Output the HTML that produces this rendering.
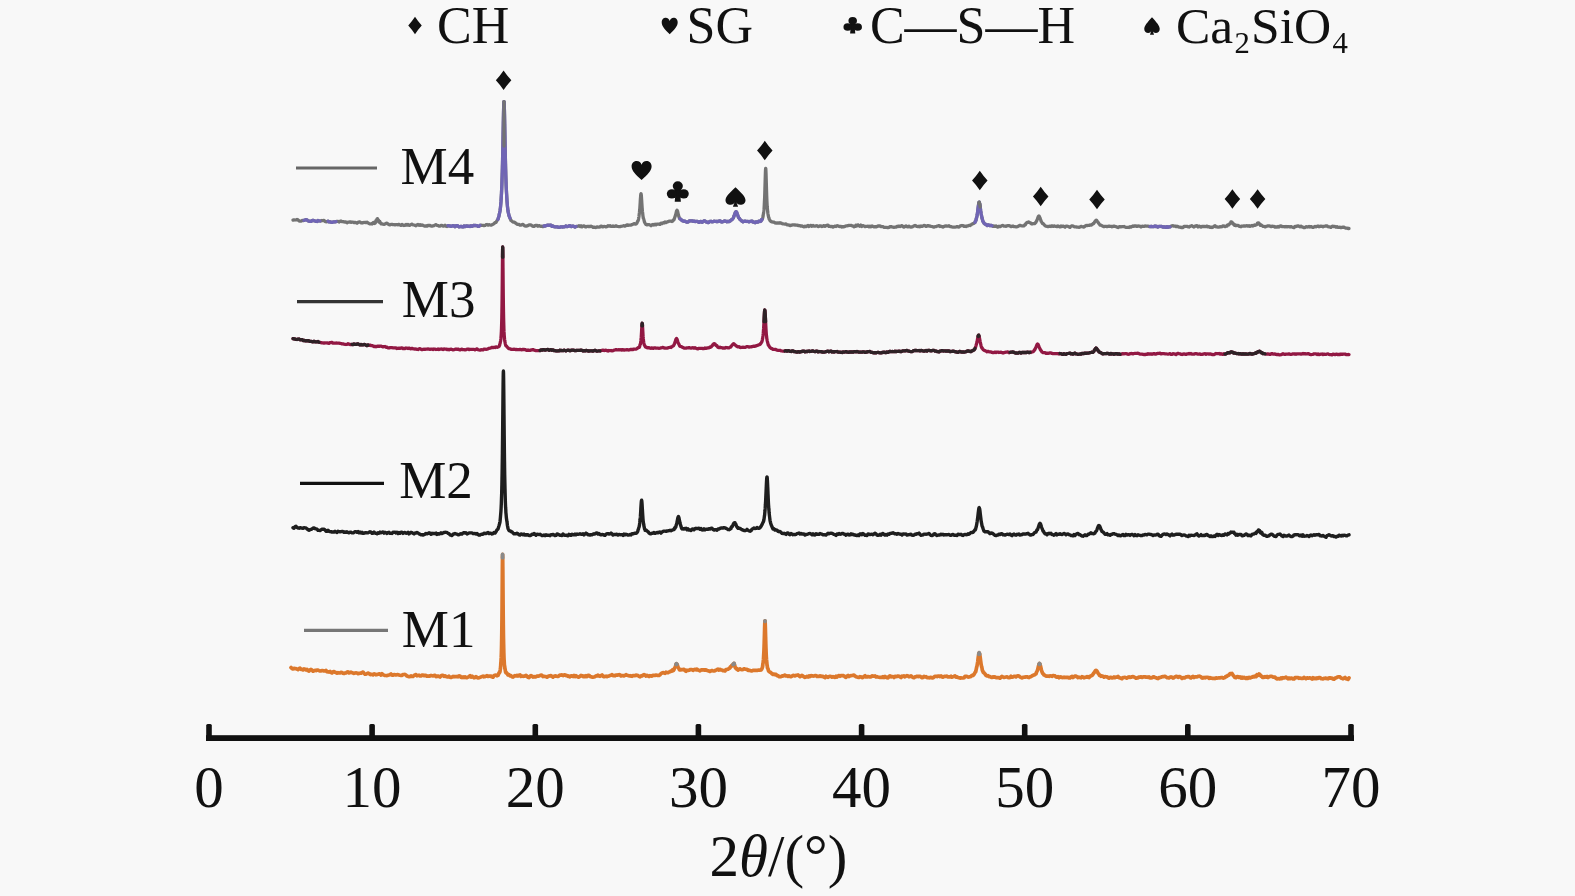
<!DOCTYPE html>
<html><head><meta charset="utf-8"><style>
html,body{margin:0;padding:0;background:#f8f8f8;overflow:hidden;}
svg{display:block;font-family:"Liberation Serif",serif;}
</style></head><body>
<svg width="1575" height="896" viewBox="0 0 1575 896">
<rect width="1575" height="896" fill="#f8f8f8"/>
<polyline points="293.0,220.1 294.0,219.8 295.0,220.0 296.0,219.8 297.0,219.5 298.0,219.9 299.0,220.8 300.0,221.1 301.0,221.2 302.0,220.5 303.0,220.6 304.0,220.3 305.0,220.0 306.0,219.7 307.0,219.8 308.0,220.8 309.0,221.2 310.0,221.3 311.0,221.4 312.0,220.6 313.0,220.3 314.0,220.7 315.0,221.0 316.0,221.3 317.0,221.5 318.0,220.5 319.0,220.8 320.0,221.0 321.0,220.9 322.0,220.5 323.0,220.7 324.0,220.3 325.0,221.4 326.0,221.8 327.0,221.6 328.0,221.2 329.0,221.9 330.0,221.9 331.0,222.2 332.0,222.4 333.0,222.0 334.0,221.8 335.0,221.9 336.0,221.7 337.0,221.3 338.0,221.3 339.0,222.0 340.0,221.4 341.0,221.0 342.0,221.7 343.0,221.6 344.0,221.9 345.0,222.0 346.0,221.9 347.0,222.8 348.0,222.1 349.0,222.1 350.0,221.8 351.0,222.3 352.0,222.1 353.0,222.1 354.0,222.7 355.0,222.4 356.0,222.6 357.0,223.2 358.0,222.4 359.0,222.0 360.0,222.0 361.0,222.8 362.0,223.0 363.0,222.6 364.0,222.5 365.0,222.3 366.0,222.6 367.0,222.2 368.0,222.9 369.0,223.5 370.0,223.9 371.0,223.8 372.0,224.0 373.0,222.8 373.6,222.5 374.0,223.3 374.1,223.4 374.6,222.8 375.0,223.2 375.1,222.9 375.2,223.0 375.3,222.3 375.4,221.8 375.5,221.8 375.6,221.4 375.7,221.5 375.8,222.3 375.9,221.7 376.0,220.9 376.1,220.5 376.2,220.4 376.3,221.2 376.4,220.9 376.5,220.5 376.6,220.0 376.7,220.9 376.8,220.5 376.9,219.9 377.0,219.3 377.1,219.0 377.2,218.9 377.3,219.5 377.4,219.1 377.5,218.7 377.6,219.1 377.7,219.1 377.8,220.1 377.9,219.5 378.0,219.8 378.1,220.4 378.2,220.2 378.3,221.1 378.4,220.8 378.5,220.5 378.6,220.6 378.7,220.3 378.8,220.7 378.9,220.8 379.0,221.7 379.1,222.2 379.2,222.1 379.3,221.4 379.4,221.4 379.5,221.4 379.6,221.5 379.7,221.5 379.8,222.5 379.9,222.0 380.0,221.7 380.1,222.8 380.6,223.0 381.0,223.8 381.1,223.3 381.6,223.9 382.0,223.9 383.0,224.2 384.0,224.3 385.0,224.0 386.0,223.4 387.0,223.2 388.0,224.1 389.0,224.6 390.0,224.9 391.0,224.3 392.0,224.4 393.0,224.7 394.0,224.7 395.0,224.9 396.0,224.7 397.0,224.7 398.0,224.8 399.0,224.3 400.0,225.0 401.0,225.4 402.0,224.4 403.0,225.1 404.0,225.5 405.0,225.3 406.0,224.4 407.0,225.1 408.0,224.4 409.0,225.3 410.0,225.3 411.0,224.5 412.0,224.2 413.0,224.8 414.0,225.0 415.0,225.3 416.0,225.8 417.0,225.0 418.0,224.4 419.0,225.3 420.0,224.6 421.0,225.4 422.0,224.8 423.0,225.4 424.0,225.8 425.0,226.1 426.0,225.8 427.0,226.1 428.0,225.3 429.0,225.6 430.0,225.3 431.0,226.0 432.0,226.1 433.0,225.8 434.0,225.7 435.0,225.0 436.0,224.7 437.0,225.3 438.0,225.5 439.0,226.1 440.0,226.1 441.0,225.5 442.0,225.5 443.0,226.0 444.0,226.0 445.0,225.3 446.0,226.1 447.0,226.5 448.0,225.7 449.0,225.9 450.0,225.9 451.0,226.4 452.0,226.0 453.0,225.7 454.0,225.9 455.0,226.7 456.0,225.9 457.0,225.6 458.0,226.1 459.0,226.8 460.0,226.6 461.0,226.4 462.0,226.8 463.0,226.9 464.0,226.0 465.0,226.6 466.0,226.0 467.0,225.8 468.0,226.4 469.0,226.2 470.0,226.5 471.0,225.8 472.0,226.4 473.0,225.8 474.0,225.4 475.0,225.6 476.0,225.5 477.0,225.7 478.0,226.3 479.0,226.3 480.0,225.3 481.0,225.2 482.0,225.4 483.0,225.4 484.0,225.7 485.0,225.5 486.0,224.7 487.0,224.5 488.0,225.2 489.0,224.7 490.0,225.0 491.0,225.2 492.0,224.7 493.0,224.3 494.0,223.7 495.0,222.6 496.0,222.3 497.0,220.7 498.0,219.2 499.0,215.7 500.0,211.0 500.5,207.1 501.0,201.4 501.5,193.1 501.6,190.6 501.7,188.9 501.8,186.3 501.9,184.0 502.0,180.8 502.1,177.6 502.2,174.4 502.3,171.4 502.4,167.5 502.5,163.9 502.6,159.4 502.7,154.9 502.8,150.0 502.9,145.1 503.0,139.7 503.1,134.4 503.2,129.2 503.3,123.8 503.4,118.8 503.5,114.0 503.6,109.9 503.7,106.4 503.8,103.8 503.9,102.2 504.0,101.6 504.1,102.2 504.2,103.8 504.3,106.4 504.4,109.9 504.5,114.0 504.6,118.7 504.7,123.8 504.8,129.2 504.9,134.6 505.0,140.1 505.1,145.0 505.2,150.1 505.3,155.0 505.4,159.6 505.5,163.8 505.6,168.0 505.7,171.4 505.8,175.2 505.9,178.1 506.0,181.1 506.1,184.2 506.2,186.7 506.3,188.6 506.4,190.5 506.5,192.5 507.0,200.8 507.5,206.9 508.0,211.1 509.0,215.6 510.0,218.2 511.0,220.5 512.0,221.2 513.0,222.0 514.0,222.1 515.0,222.5 516.0,223.4 517.0,224.1 518.0,224.4 519.0,224.4 520.0,225.2 521.0,225.2 522.0,224.6 523.0,224.3 524.0,225.4 525.0,226.0 526.0,226.2 527.0,225.9 528.0,225.4 529.0,224.9 530.0,224.9 531.0,224.8 532.0,225.8 533.0,226.3 534.0,226.4 535.0,225.6 536.0,225.3 537.0,225.3 538.0,226.2 539.0,225.6 540.0,226.1 541.0,226.3 542.0,226.2 543.0,226.7 544.0,226.0 545.0,226.1 546.0,225.6 547.0,225.3 548.0,225.1 549.0,225.3 550.0,225.2 551.0,225.1 552.0,226.4 553.0,226.0 554.0,226.7 555.0,226.8 556.0,226.9 557.0,226.8 558.0,227.2 559.0,227.3 560.0,227.2 561.0,226.9 562.0,226.9 563.0,227.0 564.0,226.8 565.0,226.6 566.0,226.0 567.0,226.7 568.0,226.5 569.0,225.9 570.0,225.7 571.0,226.6 572.0,226.2 573.0,226.1 574.0,226.5 575.0,227.0 576.0,226.5 577.0,226.3 578.0,226.2 579.0,225.7 580.0,226.6 581.0,225.8 582.0,226.8 583.0,226.1 584.0,225.8 585.0,226.6 586.0,227.0 587.0,226.3 588.0,226.5 589.0,226.4 590.0,226.7 591.0,226.1 592.0,226.7 593.0,227.3 594.0,227.1 595.0,227.4 596.0,227.5 597.0,226.8 598.0,227.1 599.0,227.2 600.0,226.9 601.0,226.1 602.0,226.4 603.0,226.9 604.0,226.3 605.0,226.5 606.0,226.9 607.0,226.7 608.0,225.7 609.0,226.1 610.0,225.7 611.0,226.4 612.0,226.4 613.0,225.9 614.0,226.4 615.0,226.3 616.0,225.8 617.0,226.3 618.0,226.5 619.0,226.7 620.0,226.7 621.0,226.3 622.0,226.2 623.0,226.0 624.0,225.7 625.0,226.2 626.0,225.6 627.0,224.8 628.0,225.3 629.0,225.1 630.0,225.1 631.0,225.1 632.0,224.6 633.0,224.2 634.0,223.6 635.0,224.1 636.0,224.1 637.0,223.1 637.5,221.5 638.0,221.0 638.5,219.4 638.6,218.7 638.7,217.5 638.8,217.5 638.9,217.0 639.0,216.4 639.1,215.1 639.2,214.7 639.3,213.5 639.4,212.7 639.5,211.6 639.6,210.6 639.7,209.8 639.8,208.6 639.9,207.3 640.0,205.6 640.1,204.0 640.2,202.5 640.3,200.7 640.4,199.2 640.5,197.9 640.6,196.5 640.7,195.3 640.8,194.4 640.9,193.9 641.0,193.7 641.1,193.9 641.2,194.4 641.3,195.3 641.4,196.4 641.5,197.8 641.6,199.4 641.7,200.9 641.8,202.6 641.9,204.1 642.0,205.7 642.1,207.3 642.2,208.5 642.3,209.8 642.4,210.8 642.5,212.0 642.6,212.6 642.7,213.5 642.8,214.4 642.9,215.7 643.0,216.0 643.1,217.0 643.2,217.1 643.3,218.3 643.4,218.3 643.5,218.4 644.0,220.1 644.5,222.1 645.0,223.1 646.0,224.5 647.0,224.8 648.0,224.5 649.0,224.7 650.0,225.0 651.0,225.7 652.0,224.9 653.0,224.5 654.0,225.0 655.0,224.2 656.0,224.9 657.0,224.2 658.0,224.1 659.0,224.1 660.0,224.4 661.0,223.2 662.0,223.6 663.0,222.8 664.0,223.0 665.0,222.0 666.0,222.6 667.0,222.0 668.0,221.7 669.0,221.2 670.0,221.2 671.0,221.1 672.0,221.5 673.0,220.8 673.5,219.9 674.0,219.8 674.5,218.2 675.0,216.7 675.5,215.4 676.0,213.3 676.5,211.1 677.0,210.2 677.5,211.0 678.0,213.1 678.5,215.3 679.0,217.1 679.5,218.6 680.0,218.8 680.5,219.2 681.0,219.5 682.0,220.4 683.0,220.9 684.0,221.3 685.0,221.2 686.0,221.7 687.0,222.1 688.0,222.2 689.0,221.2 690.0,220.9 691.0,220.8 692.0,220.9 693.0,221.3 694.0,221.1 695.0,221.5 696.0,221.4 697.0,221.4 698.0,221.8 699.0,222.4 700.0,221.6 701.0,221.5 702.0,222.3 703.0,221.6 704.0,221.0 705.0,221.0 706.0,221.8 707.0,222.1 708.0,222.6 709.0,222.2 710.0,221.3 711.0,221.3 712.0,221.8 713.0,221.7 714.0,221.2 715.0,221.3 716.0,221.5 717.0,221.4 718.0,221.5 719.0,221.1 720.0,220.8 721.0,221.6 722.0,222.0 723.0,221.7 724.0,221.1 725.0,221.0 726.0,221.3 727.0,221.8 728.0,221.4 729.0,221.7 730.0,221.1 731.0,220.0 732.0,219.6 732.5,219.1 733.0,218.4 733.5,217.6 734.0,216.0 734.5,214.8 735.0,213.4 735.5,212.1 736.0,211.6 736.5,212.0 737.0,213.2 737.5,214.7 738.0,216.0 738.5,217.4 739.0,218.0 739.5,218.6 740.0,219.5 741.0,220.3 742.0,221.2 743.0,221.8 744.0,221.3 745.0,221.1 746.0,221.3 747.0,221.5 748.0,221.3 749.0,221.9 750.0,221.3 751.0,221.5 752.0,221.1 753.0,222.0 754.0,222.1 755.0,222.7 756.0,221.8 757.0,222.1 758.0,222.0 759.0,221.1 760.0,221.5 761.0,221.2 761.7,219.5 762.0,219.7 762.2,219.4 762.7,217.9 763.0,216.7 763.2,215.3 763.3,214.3 763.4,214.0 763.5,213.9 763.6,212.7 763.7,211.9 763.8,210.8 763.9,210.2 764.0,209.5 764.1,208.3 764.2,206.3 764.3,204.5 764.4,202.2 764.5,200.4 764.6,198.5 764.7,196.0 764.8,192.7 764.9,189.6 765.0,186.1 765.1,182.7 765.2,179.4 765.3,175.9 765.4,172.9 765.5,170.5 765.6,168.9 765.7,168.4 765.8,168.9 765.9,170.5 766.0,173.0 766.1,175.9 766.2,179.2 766.3,182.7 766.4,186.3 766.5,189.6 766.6,192.6 766.7,195.7 766.8,198.4 766.9,200.8 767.0,202.9 767.1,204.7 767.2,206.5 767.3,207.4 767.4,208.8 767.5,209.7 767.6,210.6 767.7,212.1 767.8,212.8 767.9,213.5 768.0,214.0 768.1,214.9 768.2,215.1 768.7,217.6 769.0,218.0 769.2,219.3 769.7,219.7 770.0,220.6 771.0,221.5 772.0,221.9 773.0,222.0 774.0,222.2 775.0,222.9 776.0,223.0 777.0,223.1 778.0,222.8 779.0,223.2 780.0,222.7 781.0,223.1 782.0,223.6 783.0,223.8 784.0,224.0 785.0,224.2 786.0,223.8 787.0,224.8 788.0,224.9 789.0,225.1 790.0,225.6 791.0,225.3 792.0,225.0 793.0,224.9 794.0,224.9 795.0,225.0 796.0,225.1 797.0,225.1 798.0,225.5 799.0,225.5 800.0,225.7 801.0,226.2 802.0,225.9 803.0,226.5 804.0,226.8 805.0,226.2 806.0,226.7 807.0,226.0 808.0,225.5 809.0,226.5 810.0,225.7 811.0,225.3 812.0,226.3 813.0,225.5 814.0,226.1 815.0,226.2 816.0,225.8 817.0,225.7 818.0,226.6 819.0,226.3 820.0,225.9 821.0,226.0 822.0,226.5 823.0,226.1 824.0,225.6 825.0,226.3 826.0,225.7 827.0,225.4 828.0,225.1 829.0,226.4 830.0,226.3 831.0,226.6 832.0,226.5 833.0,227.1 834.0,226.5 835.0,226.2 836.0,226.5 837.0,225.7 838.0,225.8 839.0,226.4 840.0,226.5 841.0,226.4 842.0,227.0 843.0,226.6 844.0,226.8 845.0,226.4 846.0,225.8 847.0,225.9 848.0,225.7 849.0,225.3 850.0,225.5 851.0,225.3 852.0,225.7 853.0,226.2 853.8,226.4 854.0,226.8 854.3,226.1 854.8,226.2 855.0,226.5 855.3,225.9 855.8,226.2 856.0,225.2 856.3,225.7 856.8,225.8 857.0,225.9 857.3,225.7 857.8,225.4 858.0,224.9 858.3,225.2 858.8,225.7 859.0,225.6 859.3,225.7 859.8,226.3 860.0,225.7 860.3,225.6 860.8,225.1 861.0,226.1 861.3,226.3 861.8,226.5 862.0,225.9 863.0,225.7 864.0,226.0 865.0,226.7 866.0,226.3 867.0,226.3 868.0,226.2 869.0,226.8 870.0,226.1 871.0,226.8 872.0,225.9 873.0,226.5 874.0,226.8 875.0,226.6 876.0,226.9 877.0,226.4 878.0,225.9 879.0,226.0 880.0,225.9 881.0,226.5 882.0,226.6 883.0,226.7 884.0,227.3 885.0,227.3 886.0,227.3 887.0,227.5 888.0,227.6 889.0,227.4 890.0,226.7 891.0,226.6 892.0,226.9 893.0,227.1 894.0,227.3 895.0,227.2 896.0,227.1 897.0,226.4 898.0,226.6 899.0,226.1 900.0,226.5 901.0,226.0 902.0,225.6 903.0,226.7 904.0,227.1 905.0,226.5 906.0,225.9 907.0,226.6 908.0,226.9 909.0,226.2 910.0,226.8 911.0,227.1 912.0,226.9 913.0,226.4 914.0,225.8 915.0,225.5 916.0,225.9 917.0,226.5 918.0,226.7 919.0,226.2 920.0,226.8 921.0,226.0 922.0,226.4 923.0,226.0 924.0,225.5 925.0,225.6 926.0,226.4 927.0,226.1 928.0,225.6 929.0,226.0 930.0,226.0 931.0,226.3 932.0,226.5 933.0,226.8 934.0,227.2 935.0,226.6 936.0,226.7 937.0,226.1 938.0,225.9 939.0,225.6 940.0,226.5 941.0,226.3 942.0,226.6 943.0,227.1 944.0,226.6 945.0,226.1 946.0,225.9 947.0,226.1 948.0,226.1 949.0,225.7 950.0,226.5 951.0,226.6 952.0,227.0 953.0,227.2 954.0,227.1 955.0,227.2 956.0,227.0 957.0,226.6 958.0,226.9 959.0,227.1 960.0,226.1 961.0,225.7 962.0,225.5 963.0,225.7 964.0,226.4 965.0,226.2 966.0,226.5 967.0,226.0 968.0,225.9 969.0,225.3 970.0,225.5 971.0,224.9 972.0,224.0 973.0,223.7 974.0,223.2 975.0,222.4 975.2,221.6 975.7,221.0 976.0,220.2 976.2,219.0 976.7,217.2 977.0,215.9 977.2,214.9 977.7,211.2 978.0,208.7 978.2,207.1 978.7,203.7 979.0,202.5 979.2,202.2 979.7,203.7 980.0,205.6 980.2,207.0 980.7,210.8 981.0,212.7 981.2,214.1 981.7,216.5 982.0,218.1 982.2,218.7 982.7,220.7 983.0,221.6 983.2,221.5 984.0,223.2 985.0,224.2 986.0,224.4 987.0,225.5 988.0,224.9 989.0,225.2 990.0,225.6 991.0,225.3 992.0,225.7 993.0,226.4 994.0,226.0 995.0,226.4 996.0,225.9 997.0,226.7 998.0,227.1 999.0,226.2 1000.0,226.6 1001.0,226.2 1002.0,225.6 1003.0,225.5 1004.0,226.2 1005.0,226.2 1006.0,226.3 1007.0,225.8 1008.0,225.6 1009.0,225.7 1010.0,226.0 1011.0,226.6 1012.0,226.3 1013.0,226.0 1014.0,226.7 1015.0,226.7 1016.0,226.8 1017.0,226.8 1018.0,226.4 1019.0,225.8 1020.0,225.3 1021.0,225.6 1022.0,225.8 1023.0,226.0 1024.0,225.8 1024.5,225.1 1025.0,224.5 1025.5,224.7 1026.0,223.3 1026.5,222.8 1027.0,222.6 1027.5,222.4 1028.0,222.4 1028.5,221.9 1029.0,222.3 1029.5,222.3 1030.0,222.8 1030.5,222.9 1031.0,223.3 1031.5,223.9 1032.0,224.0 1033.0,223.7 1034.0,223.7 1034.9,223.6 1035.0,223.2 1035.4,222.7 1035.9,222.2 1036.0,222.3 1036.4,221.2 1036.9,220.5 1037.0,219.9 1037.4,219.2 1037.9,217.6 1038.0,217.4 1038.4,216.4 1038.9,215.9 1039.0,216.0 1039.4,216.5 1039.9,217.8 1040.0,218.0 1040.4,219.0 1040.9,220.6 1041.0,220.9 1041.4,221.7 1041.9,222.5 1042.0,222.7 1042.4,223.4 1042.9,223.8 1043.0,223.6 1044.0,224.5 1045.0,225.7 1046.0,226.1 1047.0,226.3 1048.0,226.7 1049.0,226.3 1050.0,226.1 1051.0,226.5 1052.0,225.8 1053.0,226.4 1054.0,225.9 1055.0,226.3 1056.0,226.3 1057.0,226.7 1058.0,225.9 1059.0,226.4 1060.0,226.9 1061.0,226.0 1062.0,226.5 1063.0,226.1 1064.0,226.6 1065.0,227.2 1066.0,226.1 1067.0,226.2 1068.0,226.3 1069.0,227.0 1070.0,227.3 1071.0,226.2 1072.0,225.8 1073.0,226.0 1074.0,226.6 1075.0,226.9 1076.0,226.8 1077.0,227.2 1078.0,227.2 1079.0,227.3 1080.0,227.0 1081.0,226.4 1082.0,226.7 1083.0,226.8 1084.0,227.1 1085.0,226.2 1086.0,225.5 1087.0,225.6 1088.0,225.4 1089.0,225.4 1090.0,224.9 1091.0,225.1 1092.0,224.7 1092.2,224.5 1092.7,223.9 1093.0,224.0 1093.2,223.5 1093.7,223.5 1094.0,222.9 1094.2,222.9 1094.7,221.8 1095.0,221.3 1095.2,221.1 1095.7,220.5 1096.0,220.3 1096.2,220.2 1096.7,220.5 1097.0,220.8 1097.2,221.1 1097.7,221.8 1098.0,222.3 1098.2,222.5 1098.7,223.4 1099.0,223.7 1099.2,223.9 1099.7,224.6 1100.0,225.1 1100.2,225.2 1101.0,225.2 1102.0,225.8 1103.0,226.2 1104.0,226.7 1105.0,226.3 1106.0,226.3 1107.0,226.7 1108.0,226.3 1109.0,226.1 1110.0,226.4 1111.0,226.3 1112.0,226.8 1113.0,226.4 1114.0,226.1 1115.0,226.4 1116.0,226.6 1117.0,227.2 1118.0,227.5 1119.0,226.9 1120.0,226.6 1121.0,226.8 1122.0,226.7 1123.0,226.7 1124.0,226.5 1125.0,227.0 1126.0,227.3 1127.0,227.3 1128.0,227.3 1129.0,227.5 1130.0,226.7 1131.0,227.2 1132.0,226.5 1133.0,226.0 1134.0,226.3 1135.0,225.9 1136.0,225.9 1137.0,226.4 1138.0,226.0 1139.0,226.1 1140.0,226.2 1141.0,227.0 1142.0,226.2 1143.0,226.4 1144.0,226.4 1145.0,226.0 1146.0,226.1 1147.0,226.2 1148.0,226.2 1149.0,226.5 1150.0,226.6 1151.0,226.5 1152.0,226.5 1153.0,226.7 1154.0,226.6 1155.0,226.1 1156.0,226.6 1157.0,226.4 1158.0,227.0 1159.0,226.3 1160.0,226.5 1161.0,226.3 1162.0,226.6 1163.0,227.1 1164.0,227.0 1165.0,226.9 1166.0,227.4 1167.0,226.6 1168.0,227.3 1169.0,226.9 1170.0,226.9 1171.0,226.2 1172.0,225.8 1173.0,225.7 1174.0,226.2 1175.0,226.0 1176.0,226.7 1177.0,226.2 1178.0,226.6 1179.0,227.2 1180.0,227.2 1181.0,227.5 1182.0,227.5 1183.0,227.5 1184.0,226.4 1185.0,226.5 1186.0,226.3 1187.0,226.4 1188.0,226.8 1189.0,227.0 1190.0,226.4 1191.0,226.0 1192.0,225.7 1193.0,226.5 1194.0,227.0 1195.0,226.2 1196.0,225.9 1197.0,225.7 1198.0,226.9 1199.0,226.1 1200.0,226.5 1201.0,227.1 1202.0,226.4 1203.0,226.7 1204.0,226.4 1205.0,226.7 1206.0,226.6 1207.0,226.1 1208.0,226.9 1209.0,226.7 1210.0,227.3 1211.0,227.1 1212.0,227.5 1213.0,227.2 1214.0,226.2 1215.0,225.7 1216.0,226.8 1217.0,226.9 1218.0,227.1 1219.0,227.2 1220.0,226.6 1221.0,226.8 1222.0,226.7 1223.0,225.8 1224.0,226.0 1225.0,226.6 1226.0,226.2 1227.0,226.1 1227.4,225.0 1227.9,224.8 1228.0,224.9 1228.4,224.8 1228.9,224.9 1229.0,224.5 1229.4,224.1 1229.9,223.4 1230.0,223.5 1230.4,223.0 1230.9,222.3 1231.0,221.9 1231.4,222.5 1231.9,222.3 1232.0,222.6 1232.4,222.6 1232.9,223.9 1233.0,223.3 1233.4,223.7 1233.9,224.1 1234.0,224.8 1234.4,225.3 1234.9,225.0 1235.0,224.7 1235.4,225.5 1236.0,225.6 1237.0,225.4 1238.0,225.3 1239.0,226.1 1240.0,226.4 1241.0,226.8 1242.0,226.0 1243.0,226.2 1244.0,225.8 1245.0,226.2 1246.0,225.9 1247.0,225.7 1248.0,226.1 1249.0,225.7 1250.0,226.4 1251.0,225.8 1252.0,225.5 1253.0,226.0 1254.0,225.3 1254.5,225.0 1255.0,225.3 1255.5,225.0 1256.0,224.9 1256.5,224.7 1257.0,224.5 1257.5,223.1 1258.0,222.8 1258.5,223.0 1259.0,223.1 1259.5,224.3 1260.0,224.4 1260.5,225.4 1261.0,224.8 1261.5,225.2 1262.0,225.7 1263.0,226.3 1264.0,226.3 1265.0,226.9 1266.0,226.4 1267.0,226.2 1268.0,225.9 1269.0,225.8 1270.0,226.1 1271.0,226.7 1272.0,226.2 1273.0,226.4 1274.0,226.4 1275.0,227.2 1276.0,226.9 1277.0,227.2 1278.0,226.5 1279.0,227.1 1280.0,226.2 1281.0,225.9 1282.0,226.5 1283.0,226.6 1284.0,226.6 1285.0,226.8 1286.0,226.5 1287.0,226.8 1288.0,226.6 1289.0,226.7 1290.0,227.0 1291.0,226.6 1292.0,227.0 1293.0,227.3 1294.0,227.6 1295.0,226.5 1296.0,226.5 1297.0,226.1 1298.0,225.9 1299.0,226.3 1300.0,226.8 1301.0,226.2 1302.0,226.9 1303.0,227.2 1304.0,227.6 1305.0,227.5 1306.0,226.7 1307.0,227.0 1308.0,226.9 1309.0,226.5 1310.0,227.0 1311.0,226.6 1312.0,227.1 1313.0,227.4 1314.0,226.9 1315.0,226.3 1316.0,226.9 1317.0,226.3 1318.0,226.0 1319.0,226.8 1320.0,226.4 1321.0,226.2 1322.0,226.3 1323.0,226.8 1324.0,226.3 1325.0,226.2 1326.0,225.9 1327.0,225.9 1328.0,226.7 1329.0,226.9 1330.0,226.9 1331.0,227.4 1332.0,226.4 1333.0,226.2 1334.0,226.6 1335.0,226.5 1336.0,227.2 1337.0,226.6 1338.0,227.3 1339.0,227.3 1340.0,227.2 1341.0,227.7 1342.0,227.3 1343.0,227.1 1344.0,227.2 1345.0,227.7 1346.0,228.1 1347.0,228.2 1348.0,228.5 1349.0,228.5" fill="none" stroke="#737373" stroke-width="3.3" stroke-linejoin="round" stroke-linecap="round"/>
<polyline points="304.0,220.3 305.0,220.0 306.0,219.7 307.0,219.8 308.0,220.8 309.0,221.2 310.0,221.3 311.0,221.4 312.0,220.6 313.0,220.3 314.0,220.7 315.0,221.0 316.0,221.3 317.0,221.5 318.0,220.5 319.0,220.8 320.0,221.0" fill="none" stroke="#7065b5" stroke-width="3.3" stroke-linejoin="round" stroke-linecap="round"/>
<polyline points="328.0,221.2 329.0,221.9 330.0,221.9 331.0,222.2 332.0,222.4 333.0,222.0 334.0,221.8 335.0,221.9 336.0,221.7" fill="none" stroke="#7065b5" stroke-width="3.3" stroke-linejoin="round" stroke-linecap="round"/>
<polyline points="448.0,225.7 449.0,225.9 450.0,225.9 451.0,226.4 452.0,226.0 453.0,225.7 454.0,225.9 455.0,226.7 456.0,225.9 457.0,225.6 458.0,226.1 459.0,226.8 460.0,226.6 461.0,226.4 462.0,226.8 463.0,226.9 464.0,226.0 465.0,226.6 466.0,226.0 467.0,225.8 468.0,226.4 469.0,226.2 470.0,226.5 471.0,225.8 472.0,226.4 473.0,225.8 474.0,225.4 475.0,225.6 476.0,225.5 477.0,225.7 478.0,226.3 479.0,226.3 480.0,225.3" fill="none" stroke="#7065b5" stroke-width="3.3" stroke-linejoin="round" stroke-linecap="round"/>
<polyline points="498.0,219.2 499.0,215.7 500.0,211.0 500.5,207.1 501.0,201.4 501.5,193.1 501.6,190.6 501.7,188.9 501.8,186.3 501.9,184.0 502.0,180.8 502.1,177.6 502.2,174.4 502.3,171.4 502.4,167.5 502.5,163.9 502.6,159.4 502.7,154.9 502.8,150.0 502.9,145.1 503.0,139.7 503.1,134.4 503.2,129.2 503.3,123.8 503.4,118.8 503.5,114.0 503.6,109.9 503.7,106.4 503.8,103.8 503.9,102.2 504.0,101.6 504.1,102.2 504.2,103.8 504.3,106.4 504.4,109.9 504.5,114.0 504.6,118.7 504.7,123.8 504.8,129.2 504.9,134.6 505.0,140.1 505.1,145.0 505.2,150.1 505.3,155.0 505.4,159.6 505.5,163.8 505.6,168.0 505.7,171.4 505.8,175.2 505.9,178.1 506.0,181.1 506.1,184.2 506.2,186.7 506.3,188.6 506.4,190.5 506.5,192.5 507.0,200.8 507.5,206.9 508.0,211.1 509.0,215.6 510.0,218.2" fill="none" stroke="#7065b5" stroke-width="3.3" stroke-linejoin="round" stroke-linecap="round"/>
<polyline points="544.0,226.0 545.0,226.1 546.0,225.6 547.0,225.3 548.0,225.1 549.0,225.3 550.0,225.2 551.0,225.1 552.0,226.4 553.0,226.0 554.0,226.7 555.0,226.8 556.0,226.9 557.0,226.8 558.0,227.2 559.0,227.3 560.0,227.2 561.0,226.9 562.0,226.9 563.0,227.0 564.0,226.8 565.0,226.6 566.0,226.0 567.0,226.7 568.0,226.5 569.0,225.9 570.0,225.7 571.0,226.6 572.0,226.2 573.0,226.1 574.0,226.5 575.0,227.0 576.0,226.5" fill="none" stroke="#7065b5" stroke-width="3.3" stroke-linejoin="round" stroke-linecap="round"/>
<polyline points="680.0,218.8 680.5,219.2 681.0,219.5 682.0,220.4 683.0,220.9 684.0,221.3 685.0,221.2 686.0,221.7 687.0,222.1 688.0,222.2 689.0,221.2 690.0,220.9 691.0,220.8 692.0,220.9 693.0,221.3 694.0,221.1 695.0,221.5 696.0,221.4 697.0,221.4 698.0,221.8 699.0,222.4 700.0,221.6 701.0,221.5 702.0,222.3 703.0,221.6 704.0,221.0 705.0,221.0 706.0,221.8 707.0,222.1 708.0,222.6 709.0,222.2 710.0,221.3 711.0,221.3 712.0,221.8 713.0,221.7 714.0,221.2 715.0,221.3 716.0,221.5 717.0,221.4 718.0,221.5 719.0,221.1 720.0,220.8 721.0,221.6 722.0,222.0 723.0,221.7 724.0,221.1 725.0,221.0 726.0,221.3 727.0,221.8 728.0,221.4 729.0,221.7 730.0,221.1 731.0,220.0 732.0,219.6 732.5,219.1 733.0,218.4 733.5,217.6 734.0,216.0 734.5,214.8 735.0,213.4 735.5,212.1 736.0,211.6 736.5,212.0 737.0,213.2 737.5,214.7 738.0,216.0 738.5,217.4 739.0,218.0 739.5,218.6 740.0,219.5 741.0,220.3 742.0,221.2 743.0,221.8 744.0,221.3 745.0,221.1 746.0,221.3 747.0,221.5 748.0,221.3 749.0,221.9 750.0,221.3 751.0,221.5 752.0,221.1 753.0,222.0 754.0,222.1 755.0,222.7 756.0,221.8 757.0,222.1 758.0,222.0 759.0,221.1 760.0,221.5 761.0,221.2 761.7,219.5 762.0,219.7" fill="none" stroke="#7065b5" stroke-width="3.3" stroke-linejoin="round" stroke-linecap="round"/>
<polyline points="975.0,222.4 975.2,221.6 975.7,221.0 976.0,220.2 976.2,219.0 976.7,217.2 977.0,215.9 977.2,214.9 977.7,211.2 978.0,208.7 978.2,207.1 978.7,203.7 979.0,202.5 979.2,202.2 979.7,203.7 980.0,205.6 980.2,207.0 980.7,210.8 981.0,212.7 981.2,214.1 981.7,216.5 982.0,218.1 982.2,218.7 982.7,220.7 983.0,221.6 983.2,221.5 984.0,223.2 985.0,224.2 986.0,224.4 987.0,225.5 988.0,224.9 989.0,225.2 990.0,225.6 991.0,225.3 992.0,225.7" fill="none" stroke="#7065b5" stroke-width="3.3" stroke-linejoin="round" stroke-linecap="round"/>
<polyline points="1150.0,226.6 1151.0,226.5 1152.0,226.5 1153.0,226.7 1154.0,226.6 1155.0,226.1 1156.0,226.6 1157.0,226.4 1158.0,227.0 1159.0,226.3 1160.0,226.5 1161.0,226.3 1162.0,226.6 1163.0,227.1 1164.0,227.0 1165.0,226.9 1166.0,227.4 1167.0,226.6 1168.0,227.3 1169.0,226.9 1170.0,226.9" fill="none" stroke="#7065b5" stroke-width="3.3" stroke-linejoin="round" stroke-linecap="round"/>
<line x1="504" y1="101.6" x2="504" y2="146" stroke="#737373" stroke-width="3.3" stroke-linecap="round"/>
<polyline points="293.0,338.6 294.0,338.9 295.0,339.0 296.0,339.3 297.0,339.5 298.0,339.2 299.0,339.0 300.0,339.8 301.0,339.7 302.0,339.6 303.0,340.5 304.0,340.4 305.0,340.8 306.0,340.7 307.0,340.9 308.0,340.6 309.0,340.9 310.0,341.4 311.0,341.4 312.0,341.6 313.0,341.8 314.0,341.3 315.0,341.8 316.0,341.9 317.0,341.8 318.0,341.5 319.0,342.3 320.0,342.3 321.0,342.6 322.0,342.9 323.0,342.9 324.0,343.2 325.0,342.8 326.0,343.0 327.0,342.8 328.0,343.2 329.0,343.4 330.0,342.7 331.0,342.5 332.0,342.4 333.0,343.2 334.0,343.1 335.0,343.2 336.0,343.0 337.0,343.1 338.0,343.1 339.0,343.1 340.0,343.3 341.0,343.5 342.0,343.9 343.0,343.9 344.0,344.2 345.0,344.3 346.0,344.5 347.0,344.3 348.0,343.7 349.0,344.2 350.0,344.5 351.0,344.6 352.0,344.4 353.0,344.5 354.0,344.0 355.0,344.4 356.0,344.4 357.0,344.1 358.0,343.8 359.0,344.5 360.0,344.9 361.0,344.4 362.0,344.9 363.0,344.8 364.0,344.5 365.0,344.6 366.0,345.2 367.0,345.6 368.0,345.0 369.0,345.4 370.0,345.1 371.0,345.6 372.0,345.6 373.0,346.1 374.0,346.6 375.0,346.4 376.0,346.8 377.0,346.4 378.0,346.1 379.0,346.4 380.0,346.1 381.0,346.2 382.0,346.5 383.0,346.9 384.0,346.7 385.0,346.5 386.0,347.3 387.0,347.2 388.0,347.8 389.0,348.0 390.0,347.7 391.0,347.6 392.0,347.7 393.0,347.8 394.0,347.9 395.0,347.9 396.0,348.0 397.0,348.5 398.0,348.3 399.0,348.1 400.0,348.3 401.0,348.0 402.0,347.9 403.0,348.6 404.0,348.5 405.0,348.5 406.0,348.0 407.0,348.2 408.0,348.5 409.0,348.1 410.0,348.6 411.0,348.8 412.0,348.4 413.0,348.8 414.0,348.9 415.0,349.1 416.0,349.0 417.0,349.3 418.0,349.5 419.0,348.9 420.0,348.7 421.0,349.2 422.0,349.7 423.0,349.3 424.0,349.2 425.0,349.4 426.0,349.2 427.0,349.1 428.0,349.0 429.0,349.1 430.0,349.3 431.0,349.1 432.0,349.1 433.0,349.5 434.0,349.0 435.0,349.2 436.0,349.5 437.0,349.3 438.0,349.0 439.0,349.5 440.0,349.2 441.0,349.0 442.0,349.1 443.0,349.5 444.0,349.0 445.0,349.1 446.0,349.1 447.0,349.6 448.0,349.4 449.0,349.8 450.0,349.3 451.0,349.2 452.0,349.5 453.0,349.8 454.0,349.6 455.0,349.3 456.0,349.0 457.0,349.3 458.0,349.1 459.0,349.6 460.0,349.9 461.0,349.4 462.0,349.2 463.0,349.7 464.0,349.7 465.0,349.9 466.0,349.6 467.0,349.2 468.0,349.1 469.0,349.6 470.0,349.3 471.0,349.3 472.0,349.3 473.0,349.3 474.0,349.3 475.0,349.9 476.0,349.3 477.0,348.9 478.0,349.7 479.0,350.0 480.0,350.2 481.0,349.7 482.0,349.9 483.0,349.9 484.0,349.1 485.0,349.2 486.0,349.3 487.0,349.1 488.0,348.8 489.0,348.3 490.0,348.1 491.0,347.8 492.0,347.4 493.0,347.6 494.0,347.3 495.0,347.5 496.0,346.9 497.0,347.3 498.0,347.0 498.7,346.7 499.0,346.5 499.2,346.2 499.7,345.0 500.0,343.5 500.2,343.1 500.3,342.3 500.4,341.7 500.5,341.5 500.6,340.9 500.7,340.1 500.8,339.7 500.9,338.7 501.0,337.3 501.1,335.8 501.2,334.8 501.3,332.9 501.4,331.0 501.5,328.3 501.6,325.1 501.7,321.7 501.8,317.6 501.9,311.9 502.0,305.7 502.1,298.1 502.2,288.9 502.3,278.5 502.4,267.3 502.5,257.2 502.6,249.8 502.7,247.0 502.8,249.8 502.9,257.2 503.0,267.4 503.1,278.3 503.2,288.7 503.3,298.1 503.4,305.5 503.5,311.8 503.6,317.1 503.7,321.4 503.8,324.9 503.9,328.6 504.0,331.4 504.1,332.9 504.2,334.8 504.3,336.2 504.4,337.4 504.5,338.5 504.6,339.7 504.7,340.6 504.8,341.2 504.9,341.6 505.0,342.2 505.1,342.5 505.2,343.3 505.7,345.3 506.0,345.8 506.2,345.8 506.7,346.4 507.0,346.9 508.0,347.9 509.0,348.7 510.0,348.8 511.0,349.3 512.0,349.4 513.0,349.3 514.0,349.2 515.0,349.3 516.0,349.6 517.0,349.5 518.0,349.7 519.0,349.6 520.0,349.4 521.0,349.6 522.0,349.8 523.0,349.4 524.0,349.5 525.0,349.6 526.0,350.1 527.0,350.4 528.0,350.0 529.0,350.4 530.0,350.4 531.0,350.0 532.0,349.9 533.0,349.6 534.0,350.1 535.0,350.3 536.0,350.6 537.0,350.6 538.0,350.6 539.0,350.6 540.0,350.5 541.0,349.9 542.0,350.2 543.0,349.7 544.0,349.6 545.0,350.2 546.0,349.8 547.0,349.6 548.0,349.5 549.0,350.3 550.0,350.0 551.0,349.7 552.0,350.3 553.0,349.9 554.0,350.5 555.0,350.6 556.0,350.8 557.0,351.0 558.0,350.8 559.0,350.9 560.0,350.2 561.0,350.6 562.0,350.5 563.0,350.7 564.0,350.2 565.0,350.5 566.0,350.9 567.0,350.3 568.0,350.2 569.0,350.4 570.0,350.8 571.0,350.4 572.0,350.1 573.0,350.1 574.0,350.4 575.0,350.7 576.0,350.5 577.0,350.4 578.0,350.4 579.0,350.3 580.0,350.4 581.0,350.1 582.0,350.3 583.0,351.0 584.0,350.7 585.0,350.9 586.0,350.4 587.0,350.7 588.0,351.0 589.0,351.0 590.0,350.9 591.0,350.8 592.0,350.9 593.0,351.2 594.0,350.6 595.0,350.3 596.0,350.8 597.0,351.2 598.0,351.0 599.0,350.8 600.0,351.0 601.0,350.6 602.0,350.4 603.0,350.2 604.0,350.5 605.0,350.4 606.0,350.2 607.0,350.6 608.0,351.0 609.0,350.5 610.0,350.7 611.0,350.5 612.0,350.8 613.0,350.6 614.0,350.2 615.0,350.0 616.0,349.6 617.0,349.9 618.0,349.9 619.0,349.7 620.0,349.8 621.0,349.7 622.0,350.1 623.0,349.6 624.0,350.2 625.0,349.9 626.0,349.9 627.0,349.7 628.0,349.9 629.0,350.0 630.0,349.7 631.0,349.4 632.0,349.5 633.0,349.6 634.0,349.1 635.0,349.1 636.0,349.2 637.0,348.6 638.0,347.8 638.2,347.5 638.7,347.4 639.0,347.3 639.2,347.4 639.7,346.5 639.8,345.8 639.9,345.3 640.0,344.9 640.1,344.5 640.2,344.5 640.3,344.5 640.4,344.2 640.5,343.3 640.6,343.0 640.7,342.1 640.8,341.3 640.9,340.7 641.0,339.4 641.1,338.2 641.2,337.4 641.3,336.0 641.4,334.4 641.5,332.9 641.6,331.2 641.7,329.2 641.8,327.4 641.9,325.8 642.0,324.4 642.1,323.5 642.2,323.2 642.3,323.5 642.4,324.4 642.5,325.8 642.6,327.3 642.7,329.1 642.8,331.0 642.9,332.6 643.0,334.5 643.1,336.2 643.2,337.2 643.3,338.7 643.4,339.5 643.5,340.6 643.6,341.5 643.7,341.9 643.8,342.6 643.9,343.2 644.0,343.9 644.1,343.9 644.2,344.5 644.3,345.1 644.4,345.3 644.5,345.4 644.6,345.2 644.7,345.5 645.0,346.0 645.2,346.6 645.7,347.2 646.0,347.3 646.2,347.0 647.0,347.6 648.0,347.9 649.0,347.6 650.0,348.2 651.0,348.3 652.0,347.8 653.0,348.4 654.0,347.9 655.0,347.8 656.0,348.2 657.0,348.2 658.0,348.2 659.0,348.3 660.0,348.2 661.0,347.9 662.0,347.7 663.0,347.4 664.0,347.9 665.0,348.2 666.0,348.1 667.0,348.2 668.0,347.8 669.0,347.5 670.0,347.3 671.0,347.5 672.0,346.6 672.5,346.5 673.0,345.9 673.5,345.7 674.0,344.8 674.5,343.7 675.0,342.4 675.5,340.7 676.0,339.1 676.5,338.4 677.0,339.1 677.5,340.7 678.0,342.3 678.5,343.5 679.0,344.4 679.5,345.6 680.0,346.4 680.5,346.4 681.0,346.5 682.0,347.0 683.0,347.6 684.0,348.1 685.0,348.2 686.0,348.2 687.0,347.8 688.0,347.8 689.0,347.6 690.0,347.9 691.0,348.1 692.0,347.8 693.0,347.7 694.0,348.2 695.0,347.7 696.0,348.2 697.0,348.6 698.0,348.8 699.0,348.3 700.0,348.3 701.0,348.3 702.0,348.3 703.0,348.6 704.0,348.5 705.0,348.0 706.0,348.3 707.0,348.0 708.0,347.9 709.0,347.8 710.0,346.9 710.3,347.3 710.8,347.2 711.0,347.0 711.3,346.7 711.8,346.3 712.0,345.8 712.3,345.7 712.8,344.7 713.0,344.6 713.3,344.5 713.8,343.8 714.0,343.7 714.3,344.0 714.8,344.4 715.0,344.0 715.3,344.7 715.8,345.4 716.0,345.1 716.3,345.4 716.8,345.8 717.0,345.7 717.3,346.3 717.8,347.1 718.0,346.9 718.3,347.4 719.0,347.6 720.0,347.2 721.0,347.7 722.0,347.7 723.0,348.1 724.0,348.0 725.0,348.0 726.0,347.5 727.0,347.7 728.0,347.9 729.0,347.8 730.0,347.2 730.5,347.1 731.0,346.7 731.5,345.9 732.0,345.2 732.5,344.6 733.0,344.2 733.5,343.7 734.0,343.9 734.5,344.4 735.0,344.9 735.5,345.2 736.0,345.9 736.5,346.0 737.0,346.3 737.5,346.8 738.0,346.8 739.0,346.7 740.0,347.4 741.0,347.5 742.0,347.3 743.0,347.2 744.0,347.3 745.0,347.4 746.0,347.0 747.0,346.6 748.0,346.6 749.0,347.2 750.0,346.8 751.0,346.9 752.0,346.6 753.0,346.4 754.0,346.2 755.0,346.3 756.0,345.9 757.0,345.5 758.0,345.2 759.0,344.8 760.0,344.4 760.8,343.4 761.0,343.0 761.3,342.8 761.8,341.8 762.0,341.5 762.3,340.0 762.4,339.6 762.5,339.1 762.6,338.3 762.7,338.3 762.8,337.3 762.9,336.4 763.0,335.7 763.1,334.7 763.2,333.9 763.3,332.7 763.4,331.3 763.5,329.9 763.6,328.7 763.7,327.0 763.8,325.4 763.9,323.5 764.0,321.7 764.1,319.5 764.2,317.4 764.3,315.5 764.4,313.7 764.5,312.2 764.6,311.0 764.7,310.3 764.8,310.0 764.9,310.3 765.0,311.1 765.1,312.3 765.2,313.8 765.3,315.6 765.4,317.6 765.5,319.6 765.6,321.6 765.7,323.7 765.8,325.9 765.9,327.5 766.0,329.4 766.1,330.8 766.2,332.4 766.3,333.8 766.4,335.1 766.5,335.6 766.6,336.5 766.7,337.5 766.8,338.6 766.9,338.9 767.0,339.4 767.1,340.4 767.2,340.6 767.3,341.1 767.8,343.1 768.0,343.9 768.3,345.0 768.8,345.5 769.0,346.1 770.0,347.4 771.0,348.3 772.0,348.6 773.0,349.3 774.0,349.3 775.0,349.5 776.0,349.5 777.0,350.2 778.0,350.3 779.0,350.3 780.0,350.3 781.0,350.8 782.0,351.0 783.0,351.2 784.0,351.0 785.0,351.0 786.0,350.7 787.0,351.1 788.0,350.7 789.0,350.9 790.0,351.3 791.0,351.5 792.0,351.0 793.0,350.9 794.0,351.5 795.0,351.6 796.0,351.9 797.0,352.1 798.0,351.7 799.0,352.0 800.0,352.0 801.0,351.6 802.0,351.5 803.0,351.1 804.0,351.2 805.0,351.9 806.0,351.3 807.0,351.6 808.0,351.2 809.0,351.0 810.0,351.5 811.0,351.3 812.0,351.0 813.0,351.0 814.0,351.5 815.0,351.7 816.0,351.2 817.0,351.2 818.0,351.9 819.0,351.5 820.0,351.7 821.0,351.6 822.0,352.0 823.0,352.0 824.0,352.2 825.0,352.0 826.0,351.6 827.0,351.4 828.0,351.2 829.0,351.8 830.0,351.4 831.0,351.1 832.0,352.0 833.0,351.6 834.0,352.1 835.0,351.6 836.0,351.7 837.0,351.5 838.0,352.0 839.0,352.1 840.0,352.1 841.0,352.3 842.0,352.5 843.0,352.0 844.0,352.1 845.0,351.9 846.0,351.6 847.0,352.1 848.0,352.1 849.0,352.3 850.0,351.9 851.0,352.0 852.0,351.9 853.0,352.2 854.0,351.7 855.0,351.7 856.0,351.8 857.0,351.5 858.0,351.8 859.0,352.2 860.0,352.0 861.0,352.2 862.0,352.2 863.0,351.9 864.0,351.8 865.0,352.4 866.0,352.1 867.0,352.0 868.0,351.6 869.0,351.6 870.0,351.5 871.0,352.3 872.0,352.4 873.0,352.7 874.0,352.9 875.0,352.6 876.0,352.8 877.0,352.5 878.0,352.3 879.0,352.7 880.0,352.8 881.0,352.9 882.0,352.5 883.0,352.5 884.0,352.2 885.0,352.5 886.0,352.6 887.0,352.0 888.0,352.4 889.0,351.8 890.0,351.3 891.0,351.7 892.0,351.5 893.0,351.6 894.0,351.7 895.0,351.2 896.0,351.6 897.0,351.3 898.0,351.3 899.0,351.2 900.0,351.5 901.0,351.6 902.0,351.2 903.0,350.8 904.0,350.8 905.0,350.9 906.0,350.6 907.0,350.5 908.0,351.0 909.0,351.2 910.0,351.5 911.0,351.7 912.0,351.7 913.0,351.1 914.0,350.6 915.0,350.5 916.0,350.5 917.0,350.6 918.0,350.7 919.0,350.5 920.0,350.9 921.0,350.5 922.0,350.6 923.0,351.0 924.0,351.2 925.0,350.8 926.0,350.5 927.0,351.0 928.0,350.4 929.0,350.3 930.0,350.7 931.0,350.9 932.0,350.6 933.0,350.4 934.0,350.4 935.0,351.0 936.0,351.1 937.0,351.6 938.0,351.7 939.0,351.9 940.0,351.1 941.0,350.9 942.0,350.6 943.0,350.9 944.0,351.0 945.0,350.8 946.0,351.2 947.0,350.9 948.0,351.0 949.0,351.0 950.0,351.6 951.0,351.5 952.0,351.3 953.0,351.1 954.0,351.3 955.0,351.6 956.0,351.9 957.0,352.2 958.0,352.3 959.0,351.8 960.0,351.4 961.0,351.9 962.0,352.1 963.0,351.9 964.0,352.1 965.0,351.9 966.0,351.6 967.0,351.2 968.0,350.9 969.0,351.2 970.0,351.5 971.0,351.5 972.0,350.9 973.0,350.5 974.0,349.9 974.6,349.2 975.0,348.4 975.1,348.1 975.6,347.0 976.0,345.6 976.1,345.2 976.6,343.6 977.0,342.0 977.1,341.4 977.6,338.5 978.0,336.5 978.1,336.1 978.6,335.1 979.0,335.8 979.1,336.2 979.6,338.5 980.0,340.7 980.1,341.3 980.6,343.6 981.0,345.4 981.1,345.9 981.6,347.5 982.0,348.2 982.1,347.9 982.6,348.8 983.0,349.4 984.0,350.2 985.0,350.6 986.0,351.2 987.0,351.8 988.0,351.4 989.0,351.8 990.0,351.8 991.0,351.9 992.0,352.4 993.0,352.7 994.0,352.6 995.0,352.1 996.0,352.6 997.0,352.1 998.0,352.1 999.0,352.5 1000.0,352.3 1001.0,352.1 1002.0,352.7 1003.0,353.0 1004.0,352.6 1005.0,352.4 1006.0,352.2 1007.0,352.0 1008.0,352.0 1009.0,352.8 1010.0,352.3 1011.0,352.2 1012.0,352.1 1013.0,352.0 1014.0,352.4 1015.0,352.8 1016.0,353.1 1017.0,353.0 1018.0,353.2 1019.0,352.5 1020.0,352.4 1021.0,353.0 1022.0,352.5 1023.0,352.4 1024.0,352.5 1025.0,352.4 1026.0,352.6 1027.0,352.2 1028.0,352.1 1029.0,352.7 1030.0,352.2 1031.0,352.5 1032.0,351.8 1033.0,351.8 1033.6,351.3 1034.0,350.9 1034.1,350.4 1034.6,349.6 1035.0,349.4 1035.1,349.0 1035.6,348.0 1036.0,347.2 1036.1,347.1 1036.6,345.5 1037.0,344.7 1037.1,344.5 1037.6,344.0 1038.0,344.3 1038.1,344.5 1038.6,345.7 1039.0,346.7 1039.1,346.9 1039.6,348.0 1040.0,348.8 1040.1,349.0 1040.6,350.2 1041.0,350.4 1041.1,350.4 1041.6,351.4 1042.0,352.0 1043.0,352.7 1044.0,352.6 1045.0,352.6 1046.0,353.3 1047.0,353.2 1048.0,353.4 1049.0,353.2 1050.0,352.8 1051.0,352.9 1052.0,353.4 1053.0,353.7 1054.0,353.7 1055.0,353.6 1056.0,353.6 1057.0,353.6 1058.0,353.6 1059.0,354.0 1060.0,353.5 1061.0,353.7 1062.0,354.1 1063.0,354.3 1064.0,353.7 1065.0,354.1 1066.0,354.3 1067.0,353.7 1068.0,353.5 1069.0,353.3 1070.0,353.1 1071.0,353.9 1072.0,353.7 1073.0,354.1 1074.0,353.5 1075.0,353.1 1076.0,353.8 1077.0,354.0 1078.0,354.3 1079.0,354.2 1080.0,354.0 1081.0,354.1 1082.0,353.4 1083.0,353.6 1084.0,353.5 1085.0,353.1 1086.0,353.4 1087.0,353.2 1088.0,353.2 1089.0,353.0 1090.0,352.7 1091.0,352.5 1092.0,352.2 1092.5,352.4 1093.0,352.2 1093.5,351.8 1094.0,351.2 1094.5,349.9 1095.0,349.6 1095.5,348.6 1096.0,348.0 1096.5,348.4 1097.0,349.2 1097.5,349.7 1098.0,350.6 1098.5,350.9 1099.0,352.0 1099.5,352.1 1100.0,352.4 1101.0,352.8 1102.0,353.4 1103.0,353.9 1104.0,353.7 1105.0,353.6 1106.0,353.7 1107.0,353.3 1108.0,353.4 1109.0,353.9 1110.0,354.1 1111.0,353.5 1112.0,354.0 1113.0,353.8 1114.0,354.3 1115.0,353.9 1116.0,353.6 1117.0,353.7 1118.0,354.2 1119.0,353.9 1120.0,354.3 1121.0,354.3 1122.0,353.9 1123.0,353.7 1124.0,353.8 1125.0,353.7 1126.0,353.7 1127.0,353.9 1128.0,354.3 1129.0,354.2 1130.0,353.7 1131.0,353.5 1132.0,353.6 1133.0,353.8 1134.0,353.5 1135.0,353.3 1136.0,353.4 1137.0,353.4 1138.0,353.2 1139.0,353.6 1140.0,354.2 1141.0,354.1 1142.0,354.2 1143.0,354.4 1144.0,354.5 1145.0,354.6 1146.0,354.2 1147.0,354.3 1148.0,353.7 1149.0,354.2 1150.0,353.9 1151.0,353.9 1152.0,354.3 1153.0,353.9 1154.0,353.6 1155.0,354.1 1156.0,354.1 1157.0,353.6 1158.0,353.3 1159.0,353.5 1160.0,353.2 1161.0,353.9 1162.0,353.6 1163.0,353.6 1164.0,353.7 1165.0,353.8 1166.0,353.8 1167.0,354.0 1168.0,354.2 1169.0,354.0 1170.0,353.6 1171.0,354.3 1172.0,354.3 1173.0,353.7 1174.0,353.8 1175.0,354.1 1176.0,354.6 1177.0,353.8 1178.0,353.4 1179.0,353.7 1180.0,353.8 1181.0,354.3 1182.0,354.5 1183.0,354.1 1184.0,353.9 1185.0,354.1 1186.0,354.4 1187.0,353.9 1188.0,353.8 1189.0,353.5 1190.0,353.9 1191.0,353.5 1192.0,354.2 1193.0,354.1 1194.0,354.1 1195.0,353.7 1196.0,353.6 1197.0,353.8 1198.0,354.2 1199.0,354.2 1200.0,353.9 1201.0,354.4 1202.0,354.4 1203.0,354.2 1204.0,353.8 1205.0,353.7 1206.0,354.3 1207.0,353.8 1208.0,353.9 1209.0,354.1 1210.0,353.9 1211.0,354.2 1212.0,354.5 1213.0,354.6 1214.0,354.6 1215.0,354.0 1216.0,353.5 1217.0,353.7 1218.0,353.7 1219.0,353.5 1220.0,354.1 1221.0,353.7 1222.0,354.1 1223.0,354.4 1224.0,353.7 1225.0,354.1 1226.0,353.8 1227.0,353.3 1227.5,353.0 1228.0,352.6 1228.5,352.8 1229.0,352.6 1229.5,352.8 1230.0,352.8 1230.5,352.0 1231.0,351.9 1231.5,352.0 1232.0,352.0 1232.5,352.2 1233.0,352.4 1233.5,353.1 1234.0,353.1 1234.5,352.9 1235.0,353.0 1236.0,353.4 1237.0,353.7 1238.0,353.5 1239.0,353.9 1240.0,353.7 1241.0,354.0 1242.0,354.1 1243.0,353.7 1244.0,354.1 1245.0,353.9 1246.0,354.0 1247.0,354.1 1248.0,354.1 1249.0,353.9 1250.0,353.4 1251.0,353.9 1252.0,354.2 1253.0,353.9 1254.0,353.7 1255.0,353.1 1255.5,353.4 1256.0,353.2 1256.5,352.5 1257.0,352.6 1257.5,352.5 1258.0,351.7 1258.5,351.8 1259.0,351.4 1259.5,351.1 1260.0,351.7 1260.5,351.8 1261.0,352.5 1261.5,352.8 1262.0,352.6 1262.5,353.0 1263.0,353.6 1264.0,353.7 1265.0,353.8 1266.0,354.2 1267.0,354.0 1268.0,354.0 1269.0,354.1 1270.0,354.4 1271.0,353.9 1272.0,353.6 1273.0,354.1 1274.0,354.1 1275.0,353.9 1276.0,354.4 1277.0,354.6 1278.0,354.4 1279.0,354.8 1280.0,354.8 1281.0,354.7 1282.0,354.2 1283.0,353.7 1284.0,354.1 1285.0,354.4 1286.0,354.1 1287.0,354.1 1288.0,354.2 1289.0,353.9 1290.0,354.3 1291.0,354.3 1292.0,354.1 1293.0,353.8 1294.0,354.0 1295.0,353.9 1296.0,354.3 1297.0,353.9 1298.0,353.9 1299.0,353.8 1300.0,353.9 1301.0,354.1 1302.0,353.8 1303.0,353.5 1304.0,353.9 1305.0,353.7 1306.0,354.0 1307.0,353.8 1308.0,353.6 1309.0,353.9 1310.0,354.5 1311.0,354.7 1312.0,354.5 1313.0,354.3 1314.0,353.8 1315.0,353.8 1316.0,353.8 1317.0,354.5 1318.0,354.0 1319.0,354.6 1320.0,354.4 1321.0,354.2 1322.0,354.0 1323.0,354.6 1324.0,354.1 1325.0,354.3 1326.0,354.3 1327.0,354.0 1328.0,353.8 1329.0,354.5 1330.0,354.7 1331.0,354.7 1332.0,354.9 1333.0,354.2 1334.0,354.4 1335.0,354.6 1336.0,354.2 1337.0,354.2 1338.0,354.7 1339.0,354.3 1340.0,354.6 1341.0,354.1 1342.0,354.4 1343.0,354.1 1344.0,354.2 1345.0,354.1 1346.0,354.6 1347.0,354.7 1348.0,354.5 1349.0,354.6" fill="none" stroke="#921843" stroke-width="3.3" stroke-linejoin="round" stroke-linecap="round"/>
<polyline points="293.0,338.6 294.0,338.9 295.0,339.0 296.0,339.3 297.0,339.5 298.0,339.2 299.0,339.0 300.0,339.8 301.0,339.7 302.0,339.6 303.0,340.5 304.0,340.4 305.0,340.8 306.0,340.7 307.0,340.9 308.0,340.6 309.0,340.9 310.0,341.4 311.0,341.4 312.0,341.6 313.0,341.8 314.0,341.3 315.0,341.8 316.0,341.9 317.0,341.8 318.0,341.5 319.0,342.3" fill="none" stroke="#2e2226" stroke-width="3.3" stroke-linejoin="round" stroke-linecap="round"/>
<polyline points="352.0,344.4 353.0,344.5 354.0,344.0 355.0,344.4 356.0,344.4 357.0,344.1 358.0,343.8 359.0,344.5 360.0,344.9 361.0,344.4 362.0,344.9 363.0,344.8 364.0,344.5 365.0,344.6 366.0,345.2 367.0,345.6 368.0,345.0" fill="none" stroke="#2e2226" stroke-width="3.3" stroke-linejoin="round" stroke-linecap="round"/>
<polyline points="540.0,350.5 541.0,349.9 542.0,350.2 543.0,349.7 544.0,349.6 545.0,350.2 546.0,349.8 547.0,349.6 548.0,349.5 549.0,350.3 550.0,350.0 551.0,349.7 552.0,350.3 553.0,349.9 554.0,350.5 555.0,350.6 556.0,350.8 557.0,351.0 558.0,350.8 559.0,350.9 560.0,350.2 561.0,350.6 562.0,350.5 563.0,350.7 564.0,350.2 565.0,350.5 566.0,350.9 567.0,350.3 568.0,350.2 569.0,350.4 570.0,350.8 571.0,350.4 572.0,350.1 573.0,350.1 574.0,350.4 575.0,350.7 576.0,350.5 577.0,350.4 578.0,350.4 579.0,350.3 580.0,350.4 581.0,350.1 582.0,350.3 583.0,351.0 584.0,350.7 585.0,350.9 586.0,350.4 587.0,350.7 588.0,351.0 589.0,351.0 590.0,350.9 591.0,350.8 592.0,350.9 593.0,351.2 594.0,350.6 595.0,350.3 596.0,350.8 597.0,351.2 598.0,351.0 599.0,350.8 600.0,351.0" fill="none" stroke="#2e2226" stroke-width="3.3" stroke-linejoin="round" stroke-linecap="round"/>
<polyline points="785.0,351.0 786.0,350.7 787.0,351.1 788.0,350.7 789.0,350.9 790.0,351.3 791.0,351.5 792.0,351.0 793.0,350.9 794.0,351.5 795.0,351.6 796.0,351.9 797.0,352.1 798.0,351.7 799.0,352.0 800.0,352.0 801.0,351.6 802.0,351.5 803.0,351.1 804.0,351.2 805.0,351.9 806.0,351.3 807.0,351.6 808.0,351.2 809.0,351.0 810.0,351.5 811.0,351.3 812.0,351.0 813.0,351.0 814.0,351.5 815.0,351.7 816.0,351.2 817.0,351.2 818.0,351.9 819.0,351.5 820.0,351.7 821.0,351.6 822.0,352.0 823.0,352.0 824.0,352.2 825.0,352.0 826.0,351.6 827.0,351.4 828.0,351.2 829.0,351.8 830.0,351.4 831.0,351.1 832.0,352.0 833.0,351.6 834.0,352.1 835.0,351.6 836.0,351.7 837.0,351.5 838.0,352.0 839.0,352.1 840.0,352.1 841.0,352.3 842.0,352.5 843.0,352.0 844.0,352.1 845.0,351.9 846.0,351.6 847.0,352.1 848.0,352.1 849.0,352.3 850.0,351.9 851.0,352.0 852.0,351.9 853.0,352.2 854.0,351.7 855.0,351.7 856.0,351.8 857.0,351.5 858.0,351.8 859.0,352.2 860.0,352.0 861.0,352.2 862.0,352.2 863.0,351.9 864.0,351.8 865.0,352.4 866.0,352.1 867.0,352.0 868.0,351.6 869.0,351.6 870.0,351.5 871.0,352.3 872.0,352.4 873.0,352.7 874.0,352.9 875.0,352.6 876.0,352.8 877.0,352.5 878.0,352.3 879.0,352.7 880.0,352.8 881.0,352.9 882.0,352.5 883.0,352.5 884.0,352.2 885.0,352.5 886.0,352.6 887.0,352.0 888.0,352.4 889.0,351.8 890.0,351.3 891.0,351.7 892.0,351.5 893.0,351.6 894.0,351.7 895.0,351.2 896.0,351.6 897.0,351.3 898.0,351.3 899.0,351.2 900.0,351.5 901.0,351.6 902.0,351.2 903.0,350.8 904.0,350.8 905.0,350.9 906.0,350.6 907.0,350.5 908.0,351.0 909.0,351.2 910.0,351.5 911.0,351.7 912.0,351.7 913.0,351.1 914.0,350.6 915.0,350.5 916.0,350.5 917.0,350.6 918.0,350.7 919.0,350.5 920.0,350.9 921.0,350.5 922.0,350.6 923.0,351.0 924.0,351.2 925.0,350.8 926.0,350.5 927.0,351.0 928.0,350.4 929.0,350.3 930.0,350.7 931.0,350.9 932.0,350.6 933.0,350.4 934.0,350.4 935.0,351.0 936.0,351.1 937.0,351.6 938.0,351.7 939.0,351.9 940.0,351.1 941.0,350.9 942.0,350.6 943.0,350.9 944.0,351.0 945.0,350.8 946.0,351.2 947.0,350.9 948.0,351.0 949.0,351.0 950.0,351.6 951.0,351.5 952.0,351.3 953.0,351.1 954.0,351.3 955.0,351.6 956.0,351.9 957.0,352.2 958.0,352.3 959.0,351.8 960.0,351.4 961.0,351.9 962.0,352.1 963.0,351.9 964.0,352.1 965.0,351.9 966.0,351.6 967.0,351.2 968.0,350.9 969.0,351.2 970.0,351.5 971.0,351.5 972.0,350.9 973.0,350.5 974.0,349.9 974.6,349.2 975.0,348.4" fill="none" stroke="#2e2226" stroke-width="3.3" stroke-linejoin="round" stroke-linecap="round"/>
<polyline points="1010.0,352.3 1011.0,352.2 1012.0,352.1 1013.0,352.0 1014.0,352.4 1015.0,352.8 1016.0,353.1 1017.0,353.0 1018.0,353.2 1019.0,352.5 1020.0,352.4 1021.0,353.0 1022.0,352.5 1023.0,352.4 1024.0,352.5 1025.0,352.4 1026.0,352.6 1027.0,352.2 1028.0,352.1 1029.0,352.7 1030.0,352.2" fill="none" stroke="#2e2226" stroke-width="3.3" stroke-linejoin="round" stroke-linecap="round"/>
<polyline points="1060.0,353.5 1061.0,353.7 1062.0,354.1 1063.0,354.3 1064.0,353.7 1065.0,354.1 1066.0,354.3 1067.0,353.7 1068.0,353.5 1069.0,353.3 1070.0,353.1 1071.0,353.9 1072.0,353.7 1073.0,354.1 1074.0,353.5 1075.0,353.1 1076.0,353.8 1077.0,354.0 1078.0,354.3 1079.0,354.2 1080.0,354.0 1081.0,354.1 1082.0,353.4 1083.0,353.6 1084.0,353.5 1085.0,353.1 1086.0,353.4 1087.0,353.2 1088.0,353.2 1089.0,353.0 1090.0,352.7 1091.0,352.5 1092.0,352.2 1092.5,352.4 1093.0,352.2 1093.5,351.8 1094.0,351.2 1094.5,349.9 1095.0,349.6 1095.5,348.6 1096.0,348.0 1096.5,348.4 1097.0,349.2 1097.5,349.7 1098.0,350.6 1098.5,350.9 1099.0,352.0 1099.5,352.1 1100.0,352.4 1101.0,352.8 1102.0,353.4 1103.0,353.9 1104.0,353.7 1105.0,353.6 1106.0,353.7 1107.0,353.3 1108.0,353.4 1109.0,353.9 1110.0,354.1 1111.0,353.5 1112.0,354.0 1113.0,353.8 1114.0,354.3 1115.0,353.9 1116.0,353.6 1117.0,353.7 1118.0,354.2 1119.0,353.9 1120.0,354.3" fill="none" stroke="#2e2226" stroke-width="3.3" stroke-linejoin="round" stroke-linecap="round"/>
<polyline points="1225.0,354.1 1226.0,353.8 1227.0,353.3 1227.5,353.0 1228.0,352.6 1228.5,352.8 1229.0,352.6 1229.5,352.8 1230.0,352.8 1230.5,352.0 1231.0,351.9 1231.5,352.0 1232.0,352.0 1232.5,352.2 1233.0,352.4 1233.5,353.1 1234.0,353.1 1234.5,352.9 1235.0,353.0 1236.0,353.4 1237.0,353.7 1238.0,353.5 1239.0,353.9 1240.0,353.7 1241.0,354.0 1242.0,354.1 1243.0,353.7 1244.0,354.1 1245.0,353.9 1246.0,354.0 1247.0,354.1 1248.0,354.1 1249.0,353.9 1250.0,353.4 1251.0,353.9 1252.0,354.2 1253.0,353.9 1254.0,353.7 1255.0,353.1 1255.5,353.4 1256.0,353.2 1256.5,352.5 1257.0,352.6 1257.5,352.5 1258.0,351.7 1258.5,351.8 1259.0,351.4 1259.5,351.1 1260.0,351.7 1260.5,351.8 1261.0,352.5 1261.5,352.8 1262.0,352.6 1262.5,353.0 1263.0,353.6 1264.0,353.7 1265.0,353.8" fill="none" stroke="#2e2226" stroke-width="3.3" stroke-linejoin="round" stroke-linecap="round"/>
<polyline points="502.5,257.2 502.6,249.8 502.7,247.0 502.8,249.8 502.9,257.2" fill="none" stroke="#2e2226" stroke-width="3.3" stroke-linejoin="round" stroke-linecap="round"/>
<polyline points="764.0,321.7 764.1,319.5 764.2,317.4 764.3,315.5 764.4,313.7 764.5,312.2 764.6,311.0 764.7,310.3 764.8,310.0 764.9,310.3 765.0,311.1 765.1,312.3 765.2,313.8 765.3,315.6 765.4,317.6 765.5,319.6 765.6,321.6" fill="none" stroke="#2e2226" stroke-width="3.3" stroke-linejoin="round" stroke-linecap="round"/>
<polyline points="641.9,325.8 642.0,324.4 642.1,323.5 642.2,323.2 642.3,323.5 642.4,324.4 642.5,325.8" fill="none" stroke="#2e2226" stroke-width="3.3" stroke-linejoin="round" stroke-linecap="round"/>
<polyline points="978.0,336.5 978.1,336.1 978.6,335.1 979.0,335.8 979.1,336.2" fill="none" stroke="#2e2226" stroke-width="3.3" stroke-linejoin="round" stroke-linecap="round"/>
<polyline points="978.7,203.7 979.0,202.5 979.2,202.2 979.7,203.7 980.0,205.6 980.2,207.0" fill="none" stroke="#737373" stroke-width="3.3" stroke-linejoin="round" stroke-linecap="round"/>
<polyline points="293.0,527.7 294.0,528.3 295.0,526.8 296.0,526.2 297.0,527.5 298.0,528.0 299.0,528.2 300.0,527.6 301.0,528.0 302.0,528.2 303.0,528.4 304.0,527.7 305.0,527.9 306.0,528.0 307.0,528.8 308.0,529.8 309.0,530.3 310.0,529.7 311.0,529.4 312.0,528.9 313.0,528.2 314.0,527.9 315.0,528.7 316.0,528.9 317.0,529.2 318.0,530.4 319.0,530.4 320.0,530.5 321.0,529.8 322.0,529.1 323.0,529.4 324.0,529.2 325.0,529.9 326.0,531.2 327.0,531.3 328.0,530.3 329.0,531.3 330.0,531.6 331.0,531.7 332.0,532.1 333.0,532.0 334.0,532.1 335.0,531.3 336.0,532.1 337.0,532.6 338.0,531.2 339.0,531.7 340.0,531.9 341.0,531.6 342.0,531.5 343.0,531.5 344.0,532.3 345.0,531.9 346.0,532.4 347.0,531.8 348.0,532.5 349.0,532.9 350.0,532.3 351.0,532.2 352.0,532.9 353.0,532.9 354.0,532.4 355.0,531.7 356.0,531.6 357.0,532.3 358.0,531.6 359.0,532.8 360.0,532.1 361.0,533.0 362.0,532.3 363.0,533.3 364.0,533.2 365.0,532.8 366.0,532.7 367.0,532.9 368.0,532.9 369.0,532.3 370.0,531.8 371.0,532.2 372.0,533.3 373.0,533.2 374.0,532.1 375.0,533.0 376.0,533.3 377.0,533.8 378.0,532.7 379.0,533.2 380.0,532.1 381.0,532.8 382.0,532.3 383.0,532.0 384.0,533.2 385.0,532.3 386.0,532.6 387.0,533.5 388.0,532.7 389.0,532.3 390.0,533.4 391.0,533.1 392.0,533.5 393.0,532.3 394.0,532.4 395.0,532.1 396.0,533.0 397.0,532.2 398.0,533.6 399.0,532.5 400.0,533.3 401.0,532.3 402.0,532.3 403.0,533.4 404.0,532.7 405.0,532.4 406.0,533.3 407.0,533.1 408.0,532.3 409.0,533.9 410.0,533.0 411.0,532.3 412.0,532.6 413.0,533.3 414.0,533.9 415.0,533.0 416.0,533.0 417.0,532.4 418.0,532.9 419.0,533.8 420.0,534.2 421.0,534.8 422.0,534.7 423.0,535.0 424.0,534.7 425.0,534.2 426.0,533.4 427.0,533.9 428.0,533.5 429.0,532.8 430.0,533.2 431.0,534.2 432.0,533.3 433.0,533.7 434.0,533.5 435.0,533.7 436.0,533.1 437.0,534.4 438.0,533.6 439.0,534.0 440.0,533.7 441.0,532.8 442.0,533.5 443.0,533.0 444.0,532.5 445.0,532.3 446.0,532.4 447.0,532.4 448.0,533.4 449.0,533.7 450.0,534.8 451.0,535.2 452.0,535.6 453.0,534.2 454.0,534.0 455.0,533.5 456.0,533.9 457.0,534.2 458.0,534.7 459.0,534.8 460.0,533.9 461.0,533.8 462.0,534.0 463.0,533.0 464.0,532.6 465.0,533.1 466.0,532.8 467.0,533.9 468.0,533.4 469.0,532.9 470.0,532.9 471.0,532.9 472.0,532.9 473.0,533.5 474.0,533.7 475.0,533.5 476.0,534.0 477.0,533.5 478.0,534.5 479.0,535.2 480.0,535.0 481.0,534.4 482.0,534.2 483.0,534.2 484.0,533.1 485.0,533.3 486.0,533.6 487.0,533.0 488.0,532.5 489.0,533.6 490.0,533.2 491.0,533.3 492.0,534.0 493.0,533.6 494.0,532.5 495.0,533.1 496.0,531.8 497.0,529.8 498.0,529.1 499.0,525.7 499.4,524.2 499.9,522.5 500.0,522.0 500.4,517.6 500.9,511.6 501.0,510.1 501.1,508.4 501.2,506.0 501.3,504.2 501.4,501.1 501.5,498.4 501.6,495.5 501.7,492.9 501.8,488.2 501.9,484.4 502.0,479.0 502.1,473.7 502.2,467.4 502.3,460.5 502.4,453.0 502.5,444.2 502.6,434.5 502.7,424.4 502.8,413.9 502.9,403.7 503.0,393.6 503.1,384.6 503.2,377.3 503.3,372.6 503.4,371.0 503.5,372.6 503.6,377.3 503.7,384.5 503.8,393.6 503.9,403.7 504.0,414.5 504.1,424.8 504.2,434.9 504.3,444.2 504.4,453.3 504.5,461.2 504.6,468.4 504.7,474.7 504.8,479.6 504.9,484.1 505.0,488.6 505.1,492.2 505.2,495.8 505.3,499.3 505.4,502.7 505.5,505.0 505.6,507.5 505.7,508.4 505.8,510.1 505.9,512.8 506.0,513.3 506.4,518.1 506.9,521.4 507.0,521.8 507.4,525.2 508.0,528.4 509.0,530.5 510.0,530.8 511.0,531.5 512.0,531.8 513.0,533.0 514.0,533.8 515.0,533.7 516.0,533.9 517.0,533.3 518.0,533.8 519.0,534.9 520.0,535.1 521.0,534.0 522.0,534.2 523.0,534.8 524.0,534.1 525.0,535.1 526.0,534.7 527.0,535.0 528.0,534.6 529.0,535.6 530.0,535.6 531.0,535.2 532.0,534.2 533.0,534.3 534.0,533.5 535.0,534.2 536.0,535.2 537.0,534.2 538.0,534.4 539.0,534.5 540.0,534.3 541.0,534.9 542.0,535.6 543.0,535.5 544.0,535.0 545.0,535.7 546.0,534.8 547.0,535.2 548.0,535.2 549.0,535.4 550.0,535.7 551.0,534.6 552.0,534.8 553.0,534.5 554.0,534.8 555.0,535.6 556.0,535.4 557.0,534.0 558.0,534.2 559.0,534.8 560.0,535.4 561.0,535.3 562.0,535.5 563.0,534.0 564.0,535.1 565.0,535.3 566.0,535.1 567.0,535.6 568.0,535.8 569.0,534.3 570.0,535.0 571.0,535.3 572.0,534.2 573.0,534.8 574.0,534.8 575.0,534.0 576.0,534.8 577.0,533.9 578.0,534.4 579.0,534.2 580.0,533.8 581.0,534.2 582.0,534.2 583.0,533.7 584.0,535.0 585.0,533.8 586.0,533.1 587.0,533.7 588.0,534.7 589.0,534.8 590.0,535.1 591.0,534.7 592.0,534.8 593.0,534.2 594.0,533.8 595.0,534.0 596.0,533.2 597.0,532.9 598.0,534.1 599.0,533.5 600.0,534.4 601.0,534.9 602.0,534.4 603.0,534.7 604.0,535.1 605.0,535.4 606.0,534.2 607.0,533.6 608.0,533.7 609.0,534.0 610.0,533.8 611.0,533.1 612.0,533.9 613.0,535.1 614.0,534.5 615.0,534.5 616.0,534.3 617.0,534.3 618.0,535.1 619.0,534.4 620.0,534.7 621.0,534.6 622.0,534.6 623.0,535.4 624.0,534.1 625.0,534.9 626.0,534.3 627.0,534.7 628.0,535.1 629.0,535.0 630.0,534.5 631.0,534.9 632.0,533.6 633.0,533.9 634.0,533.4 635.0,533.2 636.0,533.3 637.0,532.7 637.6,531.7 638.0,530.4 638.1,529.7 638.6,528.6 639.0,526.9 639.1,526.4 639.2,526.9 639.3,525.6 639.4,525.7 639.5,524.8 639.6,523.9 639.7,523.0 639.8,521.8 639.9,521.3 640.0,520.1 640.1,519.3 640.2,518.1 640.3,517.4 640.4,516.4 640.5,514.6 640.6,513.1 640.7,511.6 640.8,509.6 640.9,507.7 641.0,506.1 641.1,504.5 641.2,503.2 641.3,502.0 641.4,501.0 641.5,500.5 641.6,500.2 641.7,500.4 641.8,501.0 641.9,501.9 642.0,503.2 642.1,504.6 642.2,506.3 642.3,508.1 642.4,509.7 642.5,511.4 642.6,513.2 642.7,514.7 642.8,516.2 642.9,517.7 643.0,519.1 643.1,520.2 643.2,521.5 643.3,521.7 643.4,522.6 643.5,523.5 643.6,523.9 643.7,524.4 643.8,524.6 643.9,526.1 644.0,526.2 644.1,526.7 644.6,529.2 645.0,529.3 645.1,530.4 645.6,530.3 646.0,530.0 647.0,531.0 648.0,531.6 649.0,533.0 650.0,533.7 651.0,533.8 652.0,533.3 653.0,533.2 654.0,532.5 655.0,533.3 656.0,532.9 657.0,532.4 658.0,532.8 659.0,532.1 660.0,532.0 661.0,533.1 662.0,531.9 663.0,531.4 664.0,531.1 665.0,531.1 666.0,531.3 667.0,531.0 668.0,530.9 669.0,530.6 670.0,530.3 671.0,530.7 672.0,530.2 673.0,529.7 674.0,529.6 674.4,528.4 674.9,527.5 675.0,528.3 675.4,527.4 675.9,526.7 676.0,525.8 676.4,524.7 676.9,522.9 677.0,522.2 677.4,520.2 677.9,517.7 678.0,517.3 678.4,516.6 678.9,517.6 679.0,518.0 679.4,520.0 679.9,522.3 680.0,523.0 680.4,524.6 680.9,526.1 681.0,526.2 681.4,527.7 681.9,528.8 682.0,528.9 682.4,528.7 683.0,528.7 684.0,529.1 685.0,528.5 686.0,528.3 687.0,529.8 688.0,528.9 689.0,530.0 690.0,530.0 691.0,530.6 692.0,529.2 693.0,529.0 694.0,529.8 695.0,528.7 696.0,528.3 697.0,528.6 698.0,528.4 699.0,528.2 700.0,529.2 701.0,528.5 702.0,529.9 703.0,530.0 704.0,528.8 705.0,529.9 706.0,529.2 707.0,529.2 708.0,529.4 709.0,528.7 710.0,529.0 711.0,528.3 712.0,528.2 713.0,529.6 714.0,530.1 715.0,529.7 716.0,529.8 717.0,530.3 718.0,529.0 719.0,529.1 720.0,528.4 721.0,528.0 722.0,527.9 723.0,528.0 724.0,527.7 725.0,527.9 726.0,528.3 727.0,528.9 728.0,529.5 729.0,529.7 730.0,529.2 730.6,528.5 731.0,528.6 731.1,527.6 731.6,526.7 732.0,526.9 732.1,526.8 732.6,525.6 733.0,524.9 733.1,524.6 733.6,523.7 734.0,523.0 734.1,522.9 734.6,522.6 735.0,522.8 735.1,523.0 735.6,523.9 736.0,524.6 736.1,525.1 736.6,526.5 737.0,526.7 737.1,527.1 737.6,527.9 738.0,528.3 738.1,527.5 738.6,528.2 739.0,528.1 740.0,528.3 741.0,529.1 742.0,529.7 743.0,530.1 744.0,530.5 745.0,530.7 746.0,530.4 747.0,529.4 748.0,530.3 749.0,530.9 750.0,531.2 751.0,530.7 752.0,529.2 753.0,528.6 754.0,528.0 755.0,528.5 756.0,528.4 757.0,527.5 758.0,528.2 759.0,528.3 760.0,527.7 761.0,526.4 762.0,524.7 763.0,522.3 763.5,521.5 764.0,519.4 764.5,515.5 764.6,515.3 764.7,514.2 764.8,512.9 764.9,511.7 765.0,510.8 765.1,509.4 765.2,508.2 765.3,506.2 765.4,505.0 765.5,503.0 765.6,501.7 765.7,499.4 765.8,497.3 765.9,495.2 766.0,493.0 766.1,490.8 766.2,488.7 766.3,486.2 766.4,484.1 766.5,482.1 766.6,480.4 766.7,478.9 766.8,477.7 766.9,477.1 767.0,476.9 767.1,477.1 767.2,477.8 767.3,479.0 767.4,480.4 767.5,482.3 767.6,484.3 767.7,486.5 767.8,488.7 767.9,491.1 768.0,493.7 768.1,495.7 768.2,498.0 768.3,500.2 768.4,502.5 768.5,504.3 768.6,505.7 768.7,507.0 768.8,509.0 768.9,510.1 769.0,510.8 769.1,512.8 769.2,513.5 769.3,514.4 769.4,515.3 769.5,516.1 770.0,520.3 770.5,522.5 771.0,524.4 772.0,526.7 773.0,529.0 774.0,528.8 775.0,530.1 776.0,530.0 777.0,530.2 778.0,531.4 779.0,531.7 780.0,531.4 781.0,532.3 782.0,533.4 783.0,533.5 784.0,533.3 785.0,533.8 786.0,534.4 787.0,533.2 788.0,532.9 789.0,534.2 790.0,534.7 791.0,533.6 792.0,534.1 793.0,534.7 794.0,534.5 795.0,534.7 796.0,534.4 797.0,533.7 798.0,533.4 799.0,533.0 800.0,534.0 801.0,533.4 802.0,534.1 803.0,534.0 804.0,534.0 805.0,535.1 806.0,534.5 807.0,534.3 808.0,534.1 809.0,533.6 810.0,533.4 811.0,533.9 812.0,534.8 813.0,533.7 814.0,534.9 815.0,535.0 816.0,533.7 817.0,534.4 818.0,534.2 819.0,534.3 820.0,533.5 821.0,533.9 822.0,534.2 823.0,534.8 824.0,534.7 825.0,534.9 826.0,535.1 827.0,534.1 828.0,533.3 829.0,533.8 830.0,533.3 831.0,533.1 832.0,533.3 833.0,533.9 834.0,534.3 835.0,534.6 836.0,535.4 837.0,534.0 838.0,534.3 839.0,533.5 840.0,534.2 841.0,534.1 842.0,533.5 843.0,533.5 844.0,534.2 845.0,534.2 846.0,535.2 847.0,534.4 848.0,534.1 849.0,535.0 850.0,534.9 851.0,533.8 852.0,534.6 853.0,534.2 854.0,535.1 855.0,535.0 856.0,535.3 857.0,535.6 858.0,534.9 859.0,535.6 860.0,534.0 861.0,533.8 862.0,534.7 863.0,533.5 864.0,534.3 865.0,535.3 866.0,535.2 867.0,535.5 868.0,534.0 869.0,534.2 870.0,534.5 871.0,534.3 872.0,534.1 873.0,534.8 874.0,533.9 875.0,533.2 876.0,533.9 877.0,535.0 878.0,535.3 879.0,535.1 880.0,534.3 881.0,535.1 882.0,533.8 883.0,533.5 884.0,534.5 885.0,535.2 886.0,534.5 887.0,535.2 888.0,534.0 889.0,534.3 890.0,533.5 891.0,533.3 892.0,533.2 893.0,532.8 894.0,533.4 895.0,533.8 896.0,533.6 897.0,534.3 898.0,533.4 899.0,533.9 900.0,534.2 901.0,534.1 902.0,535.0 903.0,533.9 904.0,534.0 905.0,534.1 906.0,534.0 907.0,535.1 908.0,534.9 909.0,534.6 910.0,534.4 911.0,534.2 912.0,535.2 913.0,535.4 914.0,535.2 915.0,534.1 916.0,534.4 917.0,533.7 918.0,533.7 919.0,533.1 920.0,534.2 921.0,535.2 922.0,535.1 923.0,534.9 924.0,534.1 925.0,534.1 926.0,534.2 927.0,534.1 928.0,533.8 929.0,533.5 930.0,534.5 931.0,535.3 932.0,535.5 933.0,535.2 934.0,533.9 935.0,533.7 936.0,534.8 937.0,535.5 938.0,535.1 939.0,534.9 940.0,535.0 941.0,534.2 942.0,534.7 943.0,534.3 944.0,535.0 945.0,534.6 946.0,534.8 947.0,534.7 948.0,534.6 949.0,534.4 950.0,535.3 951.0,535.3 952.0,534.7 953.0,534.5 954.0,535.2 955.0,535.3 956.0,535.1 957.0,535.6 958.0,534.2 959.0,534.4 960.0,534.6 961.0,534.3 962.0,535.1 963.0,535.5 964.0,534.6 965.0,534.5 966.0,534.7 967.0,534.6 968.0,533.8 969.0,534.2 970.0,533.4 971.0,532.4 972.0,532.6 973.0,532.3 974.0,531.1 975.0,529.6 975.2,530.0 975.7,528.8 976.0,527.3 976.2,527.0 976.7,524.4 977.0,522.4 977.2,521.3 977.7,517.6 978.0,515.0 978.2,513.2 978.7,509.2 979.0,507.8 979.2,507.6 979.7,509.1 980.0,511.2 980.2,513.1 980.7,517.3 981.0,519.7 981.2,521.4 981.7,523.8 982.0,525.8 982.2,526.2 982.7,527.3 983.0,528.5 983.2,528.9 984.0,531.2 985.0,531.9 986.0,531.8 987.0,531.7 988.0,531.8 989.0,532.8 990.0,533.7 991.0,533.0 992.0,533.2 993.0,533.6 994.0,534.7 995.0,535.4 996.0,535.6 997.0,535.2 998.0,535.0 999.0,534.1 1000.0,534.5 1001.0,533.8 1002.0,533.7 1003.0,534.8 1004.0,534.8 1005.0,535.1 1006.0,534.7 1007.0,534.2 1008.0,534.4 1009.0,534.6 1010.0,534.0 1011.0,535.0 1012.0,535.7 1013.0,534.5 1014.0,534.0 1015.0,534.9 1016.0,535.2 1017.0,534.3 1018.0,534.6 1019.0,534.0 1020.0,535.0 1021.0,534.9 1022.0,534.7 1023.0,533.9 1024.0,534.0 1025.0,534.2 1026.0,534.0 1027.0,533.6 1028.0,533.3 1029.0,534.2 1030.0,535.0 1031.0,535.1 1032.0,534.6 1033.0,534.6 1034.0,533.2 1035.0,532.3 1036.0,532.1 1036.5,530.8 1037.0,529.9 1037.5,529.7 1038.0,528.2 1038.5,526.7 1039.0,525.2 1039.5,523.9 1040.0,523.3 1040.5,523.9 1041.0,525.3 1041.5,527.0 1042.0,528.5 1042.5,529.4 1043.0,531.1 1043.5,531.3 1044.0,532.4 1045.0,533.7 1046.0,533.8 1047.0,534.8 1048.0,533.7 1049.0,533.3 1050.0,533.8 1051.0,533.3 1052.0,534.5 1053.0,534.6 1054.0,535.2 1055.0,534.5 1056.0,533.6 1057.0,534.9 1058.0,534.2 1059.0,534.3 1060.0,533.7 1061.0,534.4 1062.0,534.5 1063.0,534.0 1064.0,533.5 1065.0,533.8 1066.0,534.8 1067.0,534.1 1068.0,533.9 1069.0,534.6 1070.0,534.9 1071.0,535.5 1072.0,535.4 1073.0,535.8 1074.0,534.6 1075.0,535.5 1076.0,534.2 1077.0,533.7 1078.0,533.4 1079.0,534.6 1080.0,534.7 1081.0,535.5 1082.0,536.0 1083.0,536.2 1084.0,535.6 1085.0,534.8 1086.0,535.6 1087.0,535.5 1088.0,534.3 1089.0,534.4 1090.0,533.4 1091.0,532.8 1092.0,533.5 1093.0,533.7 1094.0,533.7 1095.0,533.0 1095.5,531.6 1096.0,531.3 1096.5,530.8 1097.0,529.5 1097.5,528.1 1098.0,526.8 1098.5,525.8 1099.0,525.5 1099.5,525.9 1100.0,526.7 1100.5,528.1 1101.0,529.6 1101.5,530.3 1102.0,531.6 1102.5,531.6 1103.0,531.9 1104.0,533.0 1105.0,534.2 1106.0,534.3 1107.0,533.6 1108.0,534.8 1109.0,534.8 1110.0,535.3 1111.0,534.5 1112.0,534.3 1113.0,533.7 1114.0,533.7 1115.0,534.1 1116.0,534.3 1117.0,534.9 1118.0,535.6 1119.0,534.9 1120.0,535.8 1121.0,535.7 1122.0,535.0 1123.0,534.4 1124.0,535.6 1125.0,535.6 1126.0,534.4 1127.0,535.1 1128.0,534.8 1129.0,534.8 1130.0,535.4 1131.0,534.7 1132.0,534.4 1133.0,534.8 1134.0,535.7 1135.0,534.6 1136.0,535.5 1137.0,535.7 1138.0,534.8 1139.0,535.2 1140.0,535.4 1141.0,535.7 1142.0,535.5 1143.0,534.9 1144.0,535.0 1145.0,534.5 1146.0,534.7 1147.0,534.7 1148.0,534.1 1149.0,534.1 1150.0,534.3 1151.0,534.5 1152.0,534.9 1153.0,535.5 1154.0,534.9 1155.0,535.1 1156.0,534.8 1157.0,534.4 1158.0,534.1 1159.0,535.5 1160.0,536.2 1161.0,536.4 1162.0,535.1 1163.0,534.4 1164.0,534.0 1165.0,534.2 1166.0,534.5 1167.0,533.9 1168.0,534.4 1169.0,535.2 1170.0,535.9 1171.0,534.9 1172.0,534.1 1173.0,535.2 1174.0,535.0 1175.0,534.7 1176.0,534.3 1177.0,534.3 1178.0,534.3 1179.0,534.3 1180.0,534.2 1181.0,534.8 1182.0,535.6 1183.0,535.1 1184.0,535.0 1185.0,535.1 1186.0,535.8 1187.0,536.1 1188.0,536.6 1189.0,535.3 1190.0,535.9 1191.0,535.2 1192.0,535.4 1193.0,535.4 1194.0,535.5 1195.0,535.0 1196.0,534.3 1197.0,533.8 1198.0,535.4 1199.0,536.1 1200.0,535.6 1201.0,534.6 1202.0,535.6 1203.0,535.5 1204.0,535.3 1205.0,535.6 1206.0,534.7 1207.0,534.4 1208.0,535.5 1209.0,535.9 1210.0,536.5 1211.0,535.8 1212.0,536.5 1213.0,536.6 1214.0,536.0 1215.0,536.4 1216.0,535.1 1217.0,534.3 1218.0,535.4 1219.0,534.5 1220.0,534.9 1221.0,535.4 1222.0,535.6 1223.0,534.7 1224.0,535.3 1225.0,534.0 1226.0,534.3 1227.0,534.9 1227.5,534.4 1228.0,533.5 1228.5,534.2 1229.0,533.7 1229.5,533.3 1230.0,533.0 1230.5,532.8 1231.0,532.1 1231.5,532.4 1232.0,532.3 1232.5,532.1 1233.0,532.2 1233.5,532.5 1234.0,532.3 1234.5,533.5 1235.0,533.8 1236.0,535.1 1237.0,534.2 1238.0,535.2 1239.0,534.5 1240.0,534.5 1241.0,534.4 1242.0,535.7 1243.0,535.7 1244.0,535.4 1245.0,534.6 1246.0,534.0 1247.0,534.3 1248.0,535.6 1249.0,535.2 1250.0,535.5 1251.0,535.9 1252.0,534.4 1253.0,534.1 1254.0,534.0 1255.0,533.2 1255.5,533.1 1256.0,533.4 1256.5,532.1 1257.0,532.3 1257.5,531.2 1258.0,531.1 1258.5,529.9 1259.0,530.5 1259.5,530.4 1260.0,531.6 1260.5,532.9 1261.0,533.1 1261.5,532.3 1262.0,532.8 1262.5,534.4 1263.0,534.7 1264.0,535.3 1265.0,535.1 1266.0,536.0 1267.0,536.4 1268.0,536.0 1269.0,535.8 1270.0,534.8 1271.0,534.1 1272.0,534.1 1273.0,535.2 1274.0,536.0 1275.0,536.3 1276.0,536.6 1277.0,535.1 1278.0,534.4 1279.0,534.4 1280.0,534.0 1281.0,534.9 1282.0,536.1 1283.0,536.6 1284.0,535.3 1285.0,535.7 1286.0,536.0 1287.0,536.1 1288.0,535.6 1289.0,535.1 1290.0,536.1 1291.0,536.6 1292.0,536.5 1293.0,536.2 1294.0,534.9 1295.0,534.8 1296.0,534.7 1297.0,534.6 1298.0,534.6 1299.0,535.4 1300.0,535.9 1301.0,535.1 1302.0,536.2 1303.0,534.9 1304.0,536.2 1305.0,536.1 1306.0,536.1 1307.0,535.5 1308.0,535.9 1309.0,536.5 1310.0,535.5 1311.0,534.9 1312.0,535.8 1313.0,535.3 1314.0,534.7 1315.0,535.2 1316.0,534.8 1317.0,534.7 1318.0,534.7 1319.0,534.4 1320.0,535.7 1321.0,535.8 1322.0,536.1 1323.0,535.5 1324.0,536.1 1325.0,536.8 1326.0,537.3 1327.0,535.6 1328.0,535.3 1329.0,534.7 1330.0,535.2 1331.0,535.8 1332.0,536.0 1333.0,535.6 1334.0,536.6 1335.0,536.4 1336.0,537.1 1337.0,536.3 1338.0,536.3 1339.0,535.2 1340.0,535.6 1341.0,536.0 1342.0,535.3 1343.0,535.8 1344.0,535.1 1345.0,535.3 1346.0,535.8 1347.0,535.7 1348.0,535.1 1349.0,534.8" fill="none" stroke="#1e1e1e" stroke-width="3.4" stroke-linejoin="round" stroke-linecap="round"/>
<polyline points="291.0,667.5 292.0,668.6 293.0,669.0 294.0,668.4 295.0,668.6 296.0,668.6 297.0,669.1 298.0,669.6 299.0,668.7 300.0,668.1 301.0,669.4 302.0,669.3 303.0,669.9 304.0,668.9 305.0,669.3 306.0,670.0 307.0,669.5 308.0,670.7 309.0,671.2 310.0,669.9 311.0,669.4 312.0,670.1 313.0,671.2 314.0,670.8 315.0,670.3 316.0,670.6 317.0,670.0 318.0,670.1 319.0,670.6 320.0,671.0 321.0,670.8 322.0,670.7 323.0,670.6 324.0,671.0 325.0,671.0 326.0,670.5 327.0,671.7 328.0,671.8 329.0,672.1 330.0,671.4 331.0,672.6 332.0,672.9 333.0,671.8 334.0,671.6 335.0,672.3 336.0,672.6 337.0,673.2 338.0,672.6 339.0,673.0 340.0,673.0 341.0,672.3 342.0,672.5 343.0,673.2 344.0,673.5 345.0,673.0 346.0,673.0 347.0,672.0 348.0,671.9 349.0,672.9 350.0,672.7 351.0,672.2 352.0,672.6 353.0,673.1 354.0,673.4 355.0,673.0 356.0,672.9 357.0,673.0 358.0,673.6 359.0,673.4 360.0,673.2 361.0,673.2 362.0,672.4 363.0,672.1 364.0,673.2 365.0,674.2 366.0,674.1 367.0,673.6 368.0,673.1 369.0,673.4 370.0,674.4 371.0,674.6 372.0,674.3 373.0,674.8 374.0,673.9 375.0,674.0 376.0,674.8 377.0,674.6 378.0,674.3 379.0,673.8 380.0,674.1 381.0,675.0 382.0,673.8 383.0,674.6 384.0,675.1 385.0,675.5 386.0,675.5 387.0,675.6 388.0,675.2 389.0,675.0 390.0,674.8 391.0,674.0 392.0,675.1 393.0,675.1 394.0,674.5 395.0,674.8 396.0,674.9 397.0,674.7 398.0,674.7 399.0,675.0 400.0,675.3 401.0,675.5 402.0,675.4 403.0,674.5 404.0,674.5 405.0,674.4 406.0,675.1 407.0,676.0 408.0,676.4 409.0,676.6 410.0,676.7 411.0,675.8 412.0,676.4 413.0,676.5 414.0,675.5 415.0,674.9 416.0,674.6 417.0,675.8 418.0,675.5 419.0,675.2 420.0,675.9 421.0,675.8 422.0,675.2 423.0,675.1 424.0,675.7 425.0,675.4 426.0,675.4 427.0,676.2 428.0,676.2 429.0,675.9 430.0,676.1 431.0,675.4 432.0,675.7 433.0,675.9 434.0,675.6 435.0,675.3 436.0,676.6 437.0,676.5 438.0,676.0 439.0,676.4 440.0,677.0 441.0,675.9 442.0,675.3 443.0,675.3 444.0,676.3 445.0,675.8 446.0,676.5 447.0,676.9 448.0,676.8 449.0,676.2 450.0,677.2 451.0,677.5 452.0,677.1 453.0,676.4 454.0,676.8 455.0,676.5 456.0,676.7 457.0,676.4 458.0,676.8 459.0,675.9 460.0,676.0 461.0,677.2 462.0,677.6 463.0,676.9 464.0,677.5 465.0,676.8 466.0,677.6 467.0,677.6 468.0,677.1 469.0,676.5 470.0,675.8 471.0,677.0 472.0,676.1 473.0,677.1 474.0,677.8 475.0,677.5 476.0,676.6 477.0,677.4 478.0,678.0 479.0,677.8 480.0,677.4 481.0,676.9 482.0,676.6 483.0,676.2 484.0,676.8 485.0,676.6 486.0,676.1 487.0,675.7 488.0,676.4 489.0,676.1 490.0,676.3 491.0,676.0 492.0,676.8 493.0,677.2 494.0,675.7 495.0,675.2 496.0,675.0 497.0,675.8 498.0,675.4 498.6,674.0 499.0,672.9 499.1,673.2 499.6,672.5 500.0,671.5 500.1,670.2 500.2,670.2 500.3,669.5 500.4,668.5 500.5,668.3 500.6,666.5 500.7,665.9 500.8,663.9 500.9,662.3 501.0,661.8 501.1,659.4 501.2,657.9 501.3,655.4 501.4,652.8 501.5,648.7 501.6,644.1 501.7,638.7 501.8,632.9 501.9,625.1 502.0,616.0 502.1,605.0 502.2,592.0 502.3,578.9 502.4,566.6 502.5,557.7 502.6,554.4 502.7,557.7 502.8,566.7 502.9,579.0 503.0,592.0 503.1,604.6 503.2,615.8 503.3,624.9 503.4,632.7 503.5,638.7 503.6,643.5 503.7,647.8 503.8,652.3 503.9,655.3 504.0,658.3 504.1,660.0 504.2,661.3 504.3,663.3 504.4,665.0 504.5,665.0 504.6,666.5 504.7,666.6 504.8,667.1 504.9,668.9 505.0,668.6 505.1,669.1 505.6,672.2 506.0,672.9 506.1,672.4 506.6,672.9 507.0,673.3 508.0,674.9 509.0,674.6 510.0,676.0 511.0,675.7 512.0,676.7 513.0,677.1 514.0,676.2 515.0,675.7 516.0,675.9 517.0,675.3 518.0,676.0 519.0,675.3 520.0,674.9 521.0,676.4 522.0,676.0 523.0,676.3 524.0,676.2 525.0,675.9 526.0,675.3 527.0,676.5 528.0,677.2 529.0,677.6 530.0,676.2 531.0,675.7 532.0,676.2 533.0,677.1 534.0,676.7 535.0,676.8 536.0,676.8 537.0,676.1 538.0,676.2 539.0,675.9 540.0,675.6 541.0,675.1 542.0,675.3 543.0,676.6 544.0,676.3 545.0,676.5 546.0,676.6 547.0,677.2 548.0,676.5 549.0,676.0 550.0,675.8 551.0,675.6 552.0,676.5 553.0,677.1 554.0,676.2 555.0,675.9 556.0,676.1 557.0,676.3 558.0,676.4 559.0,675.8 560.0,675.1 561.0,675.1 562.0,674.9 563.0,675.6 564.0,675.1 565.0,674.8 566.0,675.7 567.0,675.5 568.0,676.3 569.0,676.2 570.0,676.8 571.0,675.8 572.0,675.9 573.0,676.5 574.0,675.5 575.0,676.6 576.0,675.7 577.0,676.4 578.0,677.1 579.0,677.1 580.0,676.3 581.0,675.4 582.0,675.8 583.0,676.6 584.0,676.0 585.0,676.7 586.0,675.7 587.0,676.6 588.0,675.4 589.0,675.4 590.0,676.4 591.0,676.7 592.0,677.1 593.0,677.1 594.0,677.0 595.0,676.8 596.0,675.8 597.0,675.8 598.0,675.2 599.0,676.0 600.0,676.3 601.0,675.6 602.0,675.0 603.0,676.3 604.0,676.7 605.0,676.4 606.0,676.2 607.0,676.7 608.0,676.2 609.0,675.9 610.0,675.6 611.0,675.3 612.0,674.7 613.0,675.6 614.0,675.6 615.0,675.8 616.0,675.1 617.0,675.2 618.0,674.9 619.0,674.7 620.0,674.8 621.0,675.9 622.0,675.7 623.0,675.6 624.0,675.9 625.0,675.4 626.0,674.7 627.0,675.3 628.0,675.5 629.0,675.9 630.0,675.7 631.0,676.1 632.0,676.3 633.0,675.6 634.0,675.7 635.0,675.7 636.0,675.2 637.0,675.3 638.0,675.6 639.0,676.4 640.0,676.8 641.0,675.9 642.0,676.0 643.0,675.1 644.0,674.6 645.0,675.2 646.0,676.1 647.0,675.3 648.0,675.9 649.0,676.5 650.0,675.7 651.0,675.9 652.0,676.1 653.0,675.3 654.0,675.4 655.0,675.4 656.0,675.1 657.0,675.3 658.0,675.4 659.0,675.5 660.0,674.8 661.0,673.6 662.0,673.0 663.0,672.6 664.0,672.9 665.0,673.3 666.0,672.2 667.0,672.6 668.0,672.7 669.0,672.0 670.0,671.8 671.0,670.9 672.0,671.1 672.5,670.0 673.0,670.7 673.5,670.4 674.0,669.5 674.5,668.2 675.0,667.4 675.5,666.0 676.0,664.4 676.5,663.7 677.0,664.2 677.5,665.5 678.0,666.9 678.5,667.7 679.0,668.9 679.5,669.7 680.0,669.4 680.5,670.0 681.0,669.9 682.0,669.5 683.0,669.6 684.0,669.3 685.0,670.5 686.0,671.3 687.0,670.2 688.0,670.5 689.0,670.3 690.0,669.7 691.0,669.7 692.0,669.6 693.0,670.4 694.0,669.5 695.0,669.4 696.0,669.8 697.0,669.2 698.0,670.0 699.0,670.4 700.0,670.9 701.0,670.1 702.0,669.8 703.0,670.1 704.0,669.8 705.0,670.2 706.0,669.8 707.0,670.3 708.0,670.8 709.0,671.0 710.0,671.5 711.0,670.9 712.0,670.5 713.0,670.9 714.0,671.0 715.0,670.7 716.0,670.1 717.0,669.7 718.0,669.1 719.0,670.1 720.0,669.3 721.0,670.0 722.0,670.0 723.0,670.7 724.0,670.7 725.0,671.0 726.0,669.5 727.0,669.4 728.0,669.2 729.0,668.5 729.3,668.4 729.8,667.9 730.0,668.0 730.3,666.9 730.8,666.8 731.0,666.7 731.3,666.1 731.8,665.4 732.0,665.8 732.3,665.5 732.8,664.5 733.0,664.5 733.3,664.0 733.8,663.7 734.0,663.4 734.3,664.0 734.8,665.6 735.0,666.8 735.3,667.6 735.8,667.8 736.0,668.7 736.3,668.4 736.8,669.1 737.0,668.7 737.3,669.2 738.0,670.1 739.0,669.5 740.0,668.9 741.0,669.5 742.0,669.7 743.0,669.5 744.0,668.8 745.0,669.1 746.0,669.3 747.0,669.4 748.0,670.3 749.0,670.2 750.0,670.5 751.0,670.9 752.0,670.8 753.0,670.3 754.0,670.4 755.0,670.3 756.0,670.4 757.0,670.5 758.0,670.1 759.0,670.2 760.0,670.1 761.0,670.0 761.5,669.4 762.0,668.6 762.5,666.9 762.6,666.6 762.7,665.8 762.8,664.7 762.9,663.7 763.0,663.5 763.1,663.2 763.2,662.1 763.3,660.5 763.4,660.0 763.5,658.6 763.6,657.1 763.7,654.9 763.8,653.4 763.9,651.7 764.0,649.2 764.1,646.3 764.2,643.5 764.3,639.9 764.4,636.5 764.5,633.0 764.6,629.4 764.7,625.9 764.8,623.2 764.9,621.4 765.0,620.8 765.1,621.5 765.2,623.3 765.3,626.0 765.4,629.3 765.5,633.2 765.6,636.9 765.7,640.4 765.8,643.8 765.9,647.1 766.0,649.4 766.1,652.1 766.2,654.5 766.3,656.6 766.4,657.8 766.5,659.4 766.6,660.2 766.7,661.6 766.8,662.1 766.9,663.7 767.0,665.0 767.1,665.1 767.2,665.3 767.3,666.8 767.4,667.4 767.5,668.1 768.0,668.7 768.5,670.7 769.0,671.5 770.0,672.1 771.0,672.7 772.0,673.8 773.0,674.5 774.0,674.0 775.0,674.7 776.0,674.3 777.0,675.7 778.0,675.6 779.0,676.6 780.0,676.8 781.0,676.6 782.0,675.9 783.0,676.1 784.0,675.4 785.0,675.1 786.0,676.0 787.0,675.8 788.0,676.4 789.0,675.8 790.0,676.4 791.0,676.7 792.0,676.1 793.0,675.4 794.0,675.6 795.0,675.9 796.0,675.4 797.0,675.2 798.0,674.9 799.0,675.8 800.0,676.7 801.0,676.0 802.0,675.3 803.0,676.2 804.0,676.8 805.0,677.4 806.0,677.0 807.0,676.4 808.0,677.0 809.0,676.0 810.0,676.5 811.0,675.7 812.0,675.8 813.0,676.1 814.0,676.0 815.0,675.6 816.0,675.5 817.0,676.5 818.0,676.4 819.0,676.5 820.0,675.9 821.0,676.5 822.0,676.2 823.0,676.4 824.0,677.2 825.0,677.7 826.0,676.2 827.0,676.9 828.0,677.3 829.0,676.5 830.0,676.3 831.0,676.5 832.0,677.2 833.0,676.7 834.0,677.2 835.0,677.3 836.0,676.3 837.0,677.1 838.0,675.9 839.0,675.6 840.0,676.3 841.0,675.6 842.0,675.8 843.0,675.5 844.0,675.9 845.0,676.8 846.0,677.4 847.0,676.1 848.0,675.5 849.0,676.6 850.0,675.8 851.0,675.7 852.0,675.5 853.0,675.3 854.0,675.1 855.0,676.1 856.0,676.8 857.0,677.0 858.0,677.4 859.0,677.3 860.0,676.7 861.0,676.9 862.0,677.6 863.0,677.4 864.0,676.5 865.0,675.8 866.0,677.0 867.0,677.0 868.0,676.5 869.0,676.8 870.0,676.8 871.0,676.8 872.0,675.9 873.0,676.0 874.0,676.2 875.0,675.9 876.0,677.0 877.0,676.7 878.0,677.0 879.0,677.2 880.0,677.4 881.0,677.4 882.0,677.5 883.0,676.7 884.0,677.5 885.0,676.5 886.0,677.3 887.0,677.7 888.0,677.8 889.0,676.5 890.0,675.8 891.0,676.8 892.0,676.7 893.0,676.5 894.0,677.5 895.0,676.3 896.0,676.6 897.0,676.5 898.0,676.0 899.0,676.2 900.0,676.8 901.0,677.5 902.0,676.2 903.0,676.5 904.0,675.9 905.0,676.9 906.0,676.1 907.0,675.6 908.0,676.0 909.0,676.8 910.0,676.4 911.0,675.9 912.0,676.9 913.0,677.4 914.0,677.7 915.0,676.9 916.0,676.7 917.0,676.3 918.0,676.6 919.0,676.4 920.0,676.3 921.0,677.0 922.0,677.7 923.0,677.4 924.0,676.4 925.0,676.9 926.0,676.7 927.0,677.6 928.0,677.6 929.0,677.8 930.0,677.7 931.0,677.3 932.0,677.8 933.0,677.9 934.0,677.0 935.0,676.3 936.0,676.3 937.0,676.6 938.0,676.0 939.0,676.1 940.0,676.6 941.0,675.9 942.0,676.9 943.0,677.1 944.0,676.6 945.0,676.3 946.0,676.3 947.0,676.2 948.0,676.9 949.0,676.9 950.0,676.9 951.0,676.2 952.0,677.2 953.0,676.7 954.0,676.4 955.0,675.8 956.0,677.1 957.0,676.9 958.0,677.5 959.0,677.8 960.0,678.1 961.0,677.9 962.0,678.0 963.0,678.0 964.0,677.8 965.0,676.4 966.0,676.4 967.0,676.4 968.0,677.1 969.0,677.0 970.0,676.7 971.0,676.4 972.0,675.4 973.0,675.5 974.0,674.4 975.0,672.6 975.2,672.1 975.7,671.7 976.0,670.5 976.2,669.3 976.7,667.0 977.0,666.0 977.2,664.9 977.7,661.8 978.0,659.2 978.2,657.6 978.7,654.3 979.0,653.1 979.2,652.8 979.7,654.2 980.0,656.1 980.2,657.4 980.7,661.2 981.0,663.5 981.2,664.9 981.7,667.1 982.0,668.0 982.2,669.6 982.7,671.2 983.0,671.4 983.2,672.5 984.0,672.8 985.0,673.9 986.0,675.4 987.0,676.0 988.0,675.7 989.0,676.6 990.0,676.7 991.0,677.2 992.0,677.5 993.0,676.9 994.0,677.1 995.0,676.9 996.0,677.6 997.0,677.7 998.0,677.6 999.0,677.8 1000.0,678.2 1001.0,677.0 1002.0,676.4 1003.0,677.1 1004.0,677.4 1005.0,677.2 1006.0,677.0 1007.0,676.8 1008.0,677.5 1009.0,677.7 1010.0,677.5 1011.0,676.3 1012.0,677.2 1013.0,677.0 1014.0,676.4 1015.0,676.3 1016.0,676.9 1017.0,676.0 1018.0,675.8 1019.0,676.0 1020.0,677.1 1021.0,677.4 1022.0,677.9 1023.0,677.4 1024.0,677.2 1025.0,677.1 1026.0,676.9 1027.0,676.8 1028.0,677.2 1029.0,677.6 1030.0,676.8 1031.0,676.6 1032.0,675.9 1033.0,675.3 1034.0,675.0 1035.0,674.5 1035.5,674.0 1036.0,673.9 1036.5,672.2 1037.0,671.3 1037.5,670.1 1038.0,668.1 1038.5,665.9 1039.0,664.2 1039.5,663.5 1040.0,664.2 1040.5,666.0 1041.0,668.1 1041.5,670.2 1042.0,671.9 1042.5,673.2 1043.0,673.6 1043.5,674.1 1044.0,675.0 1045.0,675.3 1046.0,676.2 1047.0,676.2 1048.0,676.1 1049.0,676.3 1050.0,675.8 1051.0,676.0 1052.0,676.3 1053.0,675.7 1054.0,675.7 1055.0,675.9 1056.0,677.0 1057.0,677.2 1058.0,676.7 1059.0,677.7 1060.0,676.9 1061.0,677.0 1062.0,677.5 1063.0,677.6 1064.0,677.2 1065.0,677.6 1066.0,677.3 1067.0,677.6 1068.0,677.3 1069.0,678.0 1070.0,678.0 1071.0,676.8 1072.0,676.3 1073.0,677.5 1074.0,676.8 1075.0,676.1 1076.0,676.2 1077.0,676.6 1078.0,677.6 1079.0,677.2 1080.0,677.5 1081.0,677.8 1082.0,676.7 1083.0,677.0 1084.0,677.8 1085.0,677.4 1086.0,677.2 1087.0,676.7 1088.0,677.3 1089.0,677.6 1090.0,676.2 1091.0,675.9 1092.0,675.3 1092.5,675.1 1093.0,674.1 1093.5,673.5 1094.0,672.8 1094.5,672.1 1095.0,671.4 1095.5,670.7 1096.0,670.4 1096.5,670.7 1097.0,671.3 1097.5,672.1 1098.0,673.2 1098.5,673.7 1099.0,674.4 1099.5,675.4 1100.0,675.1 1101.0,676.3 1102.0,675.9 1103.0,676.2 1104.0,677.2 1105.0,676.6 1106.0,676.8 1107.0,676.8 1108.0,677.6 1109.0,678.2 1110.0,677.3 1111.0,677.3 1112.0,677.9 1113.0,677.7 1114.0,677.0 1115.0,677.6 1116.0,677.1 1117.0,677.2 1118.0,676.4 1119.0,677.7 1120.0,677.8 1121.0,678.3 1122.0,678.7 1123.0,677.6 1124.0,677.5 1125.0,677.3 1126.0,677.8 1127.0,678.2 1128.0,677.3 1129.0,676.9 1130.0,677.5 1131.0,677.3 1132.0,676.7 1133.0,676.5 1134.0,677.1 1135.0,677.4 1136.0,678.2 1137.0,677.9 1138.0,677.9 1139.0,677.0 1140.0,677.1 1141.0,676.9 1142.0,677.5 1143.0,677.1 1144.0,676.8 1145.0,676.9 1146.0,677.1 1147.0,677.0 1148.0,677.4 1149.0,676.9 1150.0,677.9 1151.0,678.0 1152.0,677.8 1153.0,676.9 1154.0,676.9 1155.0,677.5 1156.0,677.8 1157.0,678.2 1158.0,678.6 1159.0,677.7 1160.0,677.6 1161.0,677.3 1162.0,676.7 1163.0,676.5 1164.0,676.6 1165.0,676.3 1166.0,677.0 1167.0,677.6 1168.0,677.7 1169.0,678.0 1170.0,677.3 1171.0,676.9 1172.0,677.3 1173.0,678.1 1174.0,677.7 1175.0,676.8 1176.0,676.3 1177.0,676.6 1178.0,677.3 1179.0,676.7 1180.0,676.6 1181.0,677.4 1182.0,678.4 1183.0,677.7 1184.0,677.8 1185.0,677.8 1186.0,676.8 1187.0,676.9 1188.0,676.6 1189.0,676.7 1190.0,677.6 1191.0,678.0 1192.0,677.0 1193.0,676.5 1194.0,677.5 1195.0,676.8 1196.0,676.9 1197.0,676.9 1198.0,676.4 1199.0,676.2 1200.0,676.3 1201.0,676.8 1202.0,678.0 1203.0,678.1 1204.0,677.4 1205.0,677.8 1206.0,677.3 1207.0,677.5 1208.0,677.3 1209.0,678.3 1210.0,677.7 1211.0,678.2 1212.0,678.2 1213.0,678.5 1214.0,678.3 1215.0,678.6 1216.0,677.9 1217.0,678.1 1218.0,678.0 1219.0,677.8 1220.0,677.8 1221.0,677.7 1222.0,677.4 1223.0,678.1 1224.0,677.9 1225.0,677.5 1226.0,676.3 1227.0,676.3 1227.5,675.7 1228.0,675.3 1228.5,675.2 1229.0,675.2 1229.5,674.3 1230.0,673.7 1230.5,673.7 1231.0,673.6 1231.5,673.7 1232.0,673.5 1232.5,674.2 1233.0,675.3 1233.5,675.8 1234.0,676.2 1234.5,677.1 1235.0,677.4 1236.0,677.7 1237.0,676.7 1238.0,676.7 1239.0,677.4 1240.0,676.9 1241.0,678.0 1242.0,677.1 1243.0,678.0 1244.0,677.3 1245.0,678.1 1246.0,678.5 1247.0,677.7 1248.0,678.3 1249.0,677.3 1250.0,678.0 1251.0,677.5 1252.0,677.3 1253.0,676.5 1254.0,676.8 1255.0,676.2 1255.5,676.5 1256.0,676.7 1256.5,676.3 1257.0,674.7 1257.5,675.4 1258.0,675.4 1258.5,674.7 1259.0,674.0 1259.5,674.2 1260.0,675.2 1260.5,675.2 1261.0,676.1 1261.5,676.4 1262.0,676.3 1262.5,677.3 1263.0,677.0 1264.0,677.4 1265.0,676.6 1266.0,677.1 1267.0,676.5 1268.0,677.5 1269.0,676.7 1270.0,676.4 1271.0,676.4 1272.0,676.4 1273.0,677.1 1274.0,677.2 1275.0,677.1 1276.0,678.4 1277.0,678.9 1278.0,678.6 1279.0,678.8 1280.0,678.9 1281.0,678.0 1282.0,678.5 1283.0,677.7 1284.0,677.9 1285.0,677.7 1286.0,677.2 1287.0,678.1 1288.0,678.8 1289.0,678.0 1290.0,678.7 1291.0,678.0 1292.0,678.3 1293.0,679.0 1294.0,679.0 1295.0,677.7 1296.0,677.7 1297.0,677.6 1298.0,677.5 1299.0,678.3 1300.0,678.0 1301.0,678.4 1302.0,678.4 1303.0,678.3 1304.0,677.4 1305.0,678.0 1306.0,678.7 1307.0,677.8 1308.0,678.2 1309.0,678.1 1310.0,677.8 1311.0,678.3 1312.0,679.0 1313.0,677.7 1314.0,678.6 1315.0,678.1 1316.0,678.7 1317.0,677.8 1318.0,678.3 1319.0,677.5 1320.0,677.5 1321.0,678.6 1322.0,678.7 1323.0,678.9 1324.0,678.4 1325.0,678.2 1326.0,678.2 1327.0,678.6 1328.0,678.8 1329.0,677.9 1330.0,677.9 1331.0,678.1 1332.0,678.2 1333.0,679.0 1334.0,679.2 1335.0,678.0 1336.0,677.9 1337.0,677.3 1338.0,676.9 1339.0,676.8 1340.0,676.9 1341.0,678.0 1342.0,678.4 1343.0,678.8 1344.0,678.1 1345.0,677.5 1346.0,678.7 1347.0,679.0 1348.0,679.4 1349.0,677.9" fill="none" stroke="#dc782c" stroke-width="3.7" stroke-linejoin="round" stroke-linecap="round"/>
<polyline points="502.5,557.7 502.6,554.4 502.7,557.7" fill="none" stroke="#8a8a8a" stroke-width="3.7" stroke-linejoin="round" stroke-linecap="round"/>
<polyline points="764.9,621.4 765.0,620.8 765.1,621.5" fill="none" stroke="#8a8a8a" stroke-width="3.7" stroke-linejoin="round" stroke-linecap="round"/>
<polyline points="978.7,654.3 979.0,653.1 979.2,652.8 979.7,654.2" fill="none" stroke="#8a8a8a" stroke-width="3.7" stroke-linejoin="round" stroke-linecap="round"/>
<polyline points="1039.0,664.2 1039.5,663.5 1040.0,664.2" fill="none" stroke="#8a8a8a" stroke-width="3.7" stroke-linejoin="round" stroke-linecap="round"/>
<polyline points="733.0,664.5 733.3,664.0 733.8,663.7 734.0,663.4 734.3,664.0" fill="none" stroke="#8a8a8a" stroke-width="3.7" stroke-linejoin="round" stroke-linecap="round"/>
<polyline points="676.0,664.4 676.5,663.7 677.0,664.2" fill="none" stroke="#8a8a8a" stroke-width="3.7" stroke-linejoin="round" stroke-linecap="round"/>
<line x1="296" y1="168" x2="377" y2="168" stroke="#666" stroke-width="3.2"/>
<line x1="297" y1="301.7" x2="383" y2="301.7" stroke="#333" stroke-width="3.2"/>
<line x1="300" y1="483.3" x2="384" y2="483.3" stroke="#111" stroke-width="3.2"/>
<line x1="304" y1="630.3" x2="388" y2="630.3" stroke="#777" stroke-width="3.2"/>
<g fill="#111">
<rect x="206" y="735.2" width="1148" height="5.8"/>
<rect x="206.2" y="724" width="5.6" height="14" rx="1.5"/>
<rect x="369.3" y="724" width="5.6" height="14" rx="1.5"/>
<rect x="532.5" y="724" width="5.6" height="14" rx="1.5"/>
<rect x="695.6" y="724" width="5.6" height="14" rx="1.5"/>
<rect x="858.8" y="724" width="5.6" height="14" rx="1.5"/>
<rect x="1021.9" y="724" width="5.6" height="14" rx="1.5"/>
<rect x="1185.0" y="724" width="5.6" height="14" rx="1.5"/>
<rect x="1348.2" y="724" width="5.6" height="14" rx="1.5"/>
<text x="209.0" y="806.5" font-size="59" text-anchor="middle">0</text>
<text x="372.1" y="806.5" font-size="59" text-anchor="middle">10</text>
<text x="535.3" y="806.5" font-size="59" text-anchor="middle">20</text>
<text x="698.4" y="806.5" font-size="59" text-anchor="middle">30</text>
<text x="861.6" y="806.5" font-size="59" text-anchor="middle">40</text>
<text x="1024.7" y="806.5" font-size="59" text-anchor="middle">50</text>
<text x="1187.8" y="806.5" font-size="59" text-anchor="middle">60</text>
<text x="1351.0" y="806.5" font-size="59" text-anchor="middle">70</text>
<text x="709.6" y="876" font-size="59">2<tspan font-style="italic">θ</tspan>/(°)</text>
<text x="437.1" y="43" font-size="52">CH</text>
<text x="686.5" y="43" font-size="52">SG</text>
<text x="869.9" y="43" font-size="52">C—S—H</text>
<text x="1175.9" y="43" font-size="51.5">Ca₂SiO₄</text>
<g transform="translate(415 25.5) scale(13.5 17.5)"><path d="M0,-0.5 Q0.23,-0.23 0.5,0 Q0.23,0.23 0,0.5 Q-0.23,0.23 -0.5,0 Q-0.23,-0.23 0,-0.5Z"/></g>
<g transform="translate(669.7 26) scale(16 16.5)"><path d="M0,0.5 C-0.3,0.22 -0.5,0.02 -0.5,-0.22 C-0.5,-0.42 -0.36,-0.5 -0.25,-0.5 C-0.12,-0.5 -0.03,-0.42 0,-0.3 C0.03,-0.42 0.12,-0.5 0.25,-0.5 C0.36,-0.5 0.5,-0.42 0.5,-0.22 C0.5,0.02 0.3,0.22 0,0.5Z"/></g>
<g transform="translate(852.7 25.2) scale(18.5 16.5)"><path d="M-0.1,0 L0.1,0 L0.14,0.5 L-0.14,0.5Z M-0.14,-0.12 L0.14,-0.12 L0.14,0.18 L-0.14,0.18Z"/><circle cx="0" cy="-0.27" r="0.23"/><circle cx="-0.27" cy="0.11" r="0.23"/><circle cx="0.27" cy="0.11" r="0.23"/></g>
<g transform="translate(1152 26) scale(15.5 17.5)"><path d="M0,-0.5 C-0.3,-0.2 -0.5,-0.02 -0.5,0.17 C-0.5,0.33 -0.37,0.4 -0.25,0.4 C-0.13,0.4 -0.06,0.33 -0.04,0.26 L-0.13,0.5 L0.13,0.5 L0.04,0.26 C0.06,0.33 0.13,0.4 0.25,0.4 C0.37,0.4 0.5,0.33 0.5,0.17 C0.5,-0.02 0.3,-0.2 0,-0.5Z"/></g>
<text x="400.5" y="184.0" font-size="53">M4</text>
<text x="401.8" y="317.0" font-size="53">M3</text>
<text x="399.2" y="498.3" font-size="53">M2</text>
<text x="401.8" y="647.0" font-size="53">M1</text>
<g transform="translate(503.6 80.2) scale(15.5 19.5)"><path d="M0,-0.5 Q0.23,-0.23 0.5,0 Q0.23,0.23 0,0.5 Q-0.23,0.23 -0.5,0 Q-0.23,-0.23 0,-0.5Z"/></g>
<g transform="translate(764.8 150.6) scale(15.5 19.5)"><path d="M0,-0.5 Q0.23,-0.23 0.5,0 Q0.23,0.23 0,0.5 Q-0.23,0.23 -0.5,0 Q-0.23,-0.23 0,-0.5Z"/></g>
<g transform="translate(979.8 180.6) scale(15.5 19.5)"><path d="M0,-0.5 Q0.23,-0.23 0.5,0 Q0.23,0.23 0,0.5 Q-0.23,0.23 -0.5,0 Q-0.23,-0.23 0,-0.5Z"/></g>
<g transform="translate(1040.7 196.5) scale(15.5 19.5)"><path d="M0,-0.5 Q0.23,-0.23 0.5,0 Q0.23,0.23 0,0.5 Q-0.23,0.23 -0.5,0 Q-0.23,-0.23 0,-0.5Z"/></g>
<g transform="translate(1097 199.5) scale(15.5 19.5)"><path d="M0,-0.5 Q0.23,-0.23 0.5,0 Q0.23,0.23 0,0.5 Q-0.23,0.23 -0.5,0 Q-0.23,-0.23 0,-0.5Z"/></g>
<g transform="translate(1232.4 199) scale(15.5 19.5)"><path d="M0,-0.5 Q0.23,-0.23 0.5,0 Q0.23,0.23 0,0.5 Q-0.23,0.23 -0.5,0 Q-0.23,-0.23 0,-0.5Z"/></g>
<g transform="translate(1257.6 199) scale(15.5 19.5)"><path d="M0,-0.5 Q0.23,-0.23 0.5,0 Q0.23,0.23 0,0.5 Q-0.23,0.23 -0.5,0 Q-0.23,-0.23 0,-0.5Z"/></g>
<g transform="translate(641.6 170.5) scale(20 19)"><path d="M0,0.5 C-0.3,0.22 -0.5,0.02 -0.5,-0.22 C-0.5,-0.42 -0.36,-0.5 -0.25,-0.5 C-0.12,-0.5 -0.03,-0.42 0,-0.3 C0.03,-0.42 0.12,-0.5 0.25,-0.5 C0.36,-0.5 0.5,-0.42 0.5,-0.22 C0.5,0.02 0.3,0.22 0,0.5Z"/></g>
<g transform="translate(677.8 191.6) scale(22 20.5)"><path d="M-0.1,0 L0.1,0 L0.14,0.5 L-0.14,0.5Z M-0.14,-0.12 L0.14,-0.12 L0.14,0.18 L-0.14,0.18Z"/><circle cx="0" cy="-0.27" r="0.23"/><circle cx="-0.27" cy="0.11" r="0.23"/><circle cx="0.27" cy="0.11" r="0.23"/></g>
<g transform="translate(735.5 197) scale(20 19.5)"><path d="M0,-0.5 C-0.3,-0.2 -0.5,-0.02 -0.5,0.17 C-0.5,0.33 -0.37,0.4 -0.25,0.4 C-0.13,0.4 -0.06,0.33 -0.04,0.26 L-0.13,0.5 L0.13,0.5 L0.04,0.26 C0.06,0.33 0.13,0.4 0.25,0.4 C0.37,0.4 0.5,0.33 0.5,0.17 C0.5,-0.02 0.3,-0.2 0,-0.5Z"/></g>
</g>
</svg>
</body></html>
